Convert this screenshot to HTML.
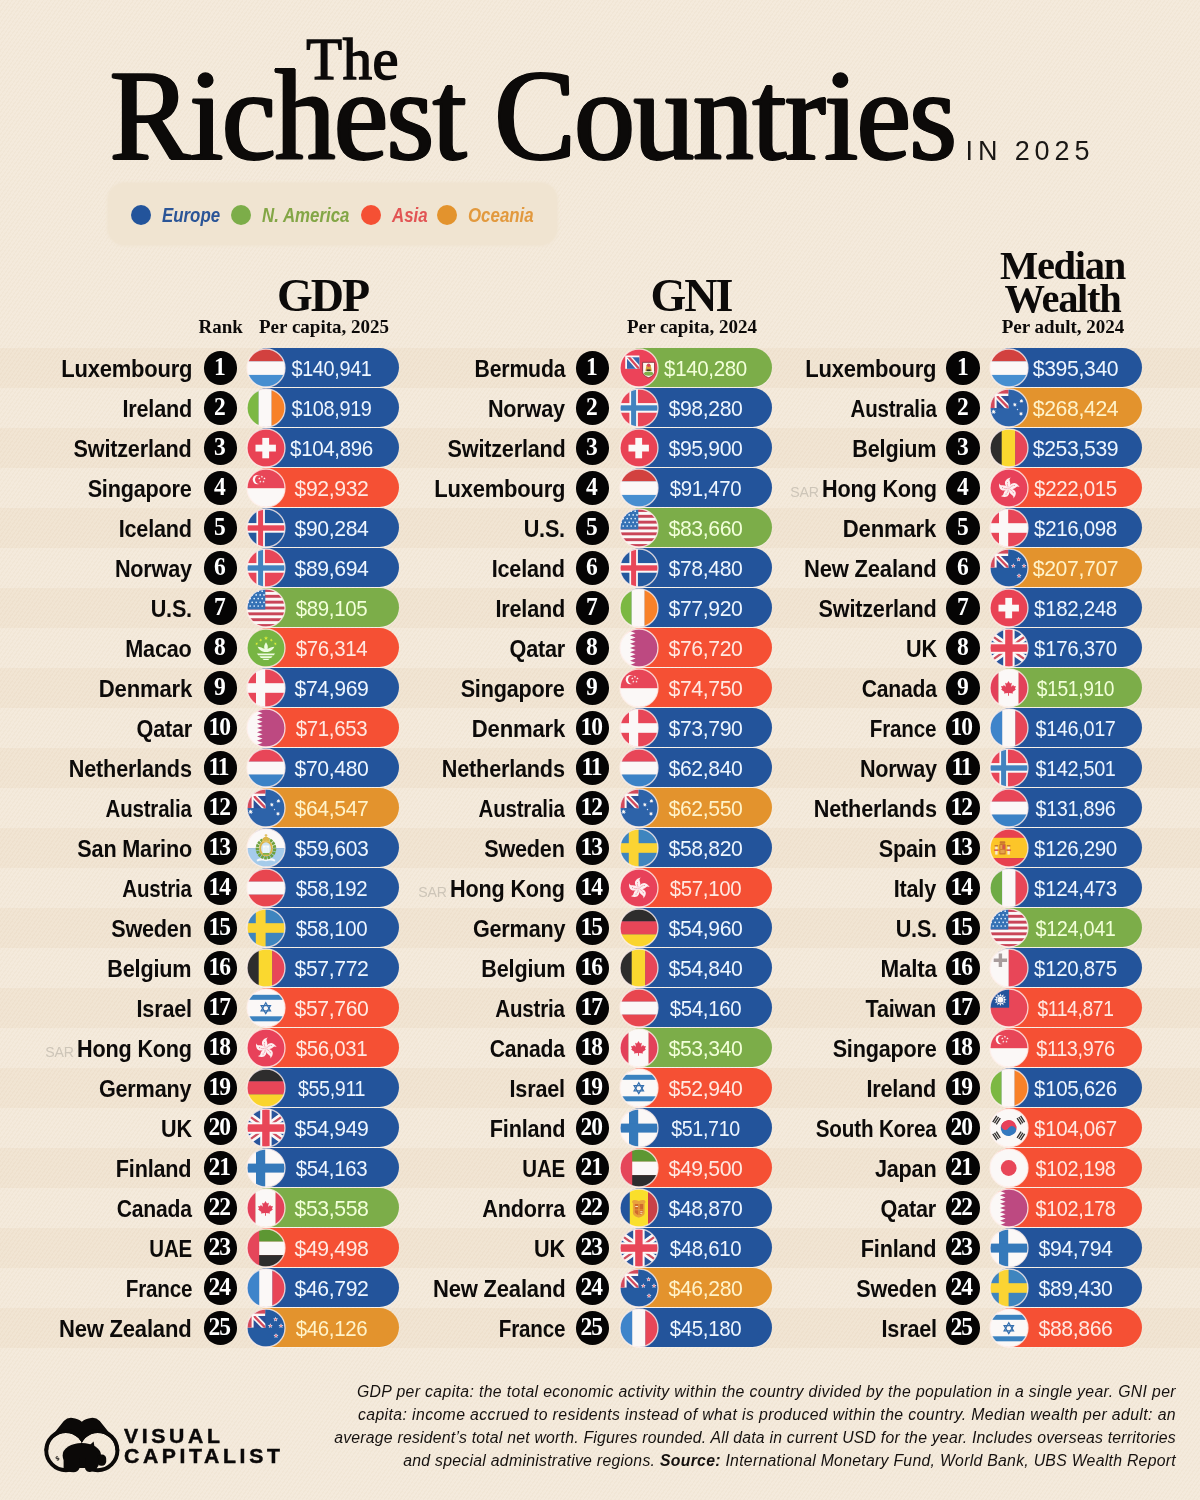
<!DOCTYPE html>
<html lang="en">
<head>
<meta charset="utf-8">
<title>The Richest Countries in 2025</title>
<style>
*{margin:0;padding:0;box-sizing:border-box}
html,body{width:1200px;height:1500px;background:#f4eadb;overflow:hidden}
body{font-family:"Liberation Sans","DejaVu Sans",sans-serif;color:#0c0a09}
#page{position:relative;width:1200px;height:1500px;overflow:hidden;background:#f4eadb}
.bands{position:absolute;left:0;top:0;width:1200px;height:1500px}
.bands::after{content:'';position:absolute;left:0;top:0;width:1200px;height:1500px;background:repeating-linear-gradient(125deg,rgba(150,110,60,.03) 0 1.2px,rgba(255,255,255,.025) 1.2px 3.2px);pointer-events:none}
.bands i{position:absolute;left:0;width:1200px;height:40px;background:#f1e4d2;display:block}
.abs{position:absolute;white-space:nowrap;line-height:1}
.serif{font-family:"Liberation Serif","DejaVu Serif",serif;font-weight:bold}

/* title */
#t-the{left:306.3px;top:30.6px;font-size:58.5px;letter-spacing:.6px;transform-origin:0 0;font-weight:normal;-webkit-text-stroke:1.5px #0c0a09}
#t-main{left:110px;top:50.5px;font-size:129.5px;letter-spacing:-1px;transform-origin:0 0;transform:scaleX(.932);font-weight:normal;-webkit-text-stroke:2px #0c0a09;text-shadow:1.8px 0 0 #0c0a09,-1.8px 0 0 #0c0a09,.9px 0 0 #0c0a09,-.9px 0 0 #0c0a09}
#t-year{left:965.5px;top:137.6px;font-size:27px;letter-spacing:4.9px;color:#1a1715}

/* legend */
#legend{position:absolute;left:108px;top:183px;width:449px;height:62px;border-radius:17px;background:#f0e4d1;box-shadow:0 0 3px 1px #f0e4d1}
#legend .dot{position:absolute;top:22px;width:20px;height:20px;border-radius:50%}
#legend .lb{position:absolute;top:23px;font-size:19.5px;font-style:italic;font-weight:bold;line-height:1;white-space:nowrap;transform-origin:0 50%;transform:scaleX(.865)}

/* column headers */
.h1{font-size:46px;letter-spacing:-2px;text-align:center}
.h2{font-size:19px;text-align:center}

/* rows */
.col{position:absolute;left:0;top:0;width:0;height:0}
.row{position:absolute;left:0;width:1200px;height:40px}
.nm{position:absolute;top:0;height:40px;line-height:40px;white-space:nowrap;text-align:right;font-size:23px;font-weight:bold;letter-spacing:-.2px;transform-origin:100% 50%;transform:scaleX(.94);padding-top:1px;right:calc(1200px - var(--nx))}
.nm b{font-weight:bold}
.sar{font-size:15px;font-weight:normal;color:#cdc5b8;letter-spacing:-.2px;margin-right:3.5px;position:relative;top:0}
.rk{position:absolute;top:3px;left:calc(var(--rx) - 16.8px);width:33.6px;height:33.6px;border-radius:50%;background:#050404;color:#fff;text-align:center;font-family:"Liberation Serif","DejaVu Serif",serif;font-weight:bold;font-size:25px;line-height:32px}
.rk span{display:inline-block;transform-origin:50% 50%}
.rk .d1{transform:translateX(-.5px) scaleX(.94)}
.rk .d2{transform:translateX(-2.1px) scaleX(.94);letter-spacing:-1.2px;margin-right:-1.2px}
.pill{position:absolute;top:.1px;height:39.2px;left:calc(var(--fx) - 18px);width:151px;border-radius:19.6px;box-shadow:0 1px 0 rgba(255,255,255,.42)}
.pill.e{background:#23549b}
.pill.n{background:#7cad49}
.pill.a{background:#f55034}
.pill.o{background:#e3932d}
.v{position:absolute;left:18px;width:133px;top:0;height:39.2px;line-height:41px;text-align:center;color:#fff;font-size:22px;letter-spacing:-.4px;transform:scaleX(.965);transform-origin:50% 50%;white-space:nowrap}
.v i{font-style:normal;margin:0 -1.4px}
.pill.n .v{color:#f2ffd9}
.pill.o .v{color:#fff3c9}
.pill.a .v{color:#ffe9e2}
.pill.e .v{color:#eef6ff}
.fl{position:absolute;top:-.3px;left:calc(var(--fx) - 20px);width:40px;height:40px;overflow:visible}
.c1 .v{margin-left:-1px}
.c1{--nx:191.8px;--rx:220.3px;--fx:266.3px}
.c2{--nx:565.1px;--rx:592.6px;--fx:638.9px}
.c3{--nx:936.5px;--rx:963px;--fx:1009.4px}

/* footer */
.fn{position:absolute;right:24px;white-space:nowrap;font-style:italic;font-size:15.8px;line-height:1;letter-spacing:.25px;color:#15110f;transform-origin:100% 50%}
.fn b{font-weight:bold}
#vc1,#vc2{position:absolute;left:124.2px;font-weight:bold;font-size:19.8px;line-height:1;white-space:nowrap;color:#0a0808;transform-origin:0 50%;transform:scaleX(1.07);-webkit-text-stroke:.45px #0a0808}

</style>
</head>
<body>
<div id="page">
<svg width="0" height="0" style="position:absolute" aria-hidden="true"><defs>
<clipPath id="cc"><circle cx="20" cy="20" r="19"/></clipPath>
<clipPath id="cbm"><rect x="8" y="9.3" width="12.4" height="11.5"/></clipPath>
<clipPath id="cq216"><rect x="0.00" y="0.00" width="19.60" height="20.20"/></clipPath>
<clipPath id="cq213"><rect x="0.00" y="0.00" width="19.40" height="19.80"/></clipPath>
</defs></svg>
<div class="bands"><i style="top:348px"></i><i style="top:428px"></i><i style="top:508px"></i><i style="top:588px"></i><i style="top:668px"></i><i style="top:748px"></i><i style="top:828px"></i><i style="top:908px"></i><i style="top:988px"></i><i style="top:1068px"></i><i style="top:1148px"></i><i style="top:1228px"></i><i style="top:1308px"></i></div>
<header>
<div id="t-the" class="abs serif">The</div>
<h1 id="t-main" class="abs serif">Richest Countries</h1>
<div id="t-year" class="abs">IN 2025</div>
<div id="legend">
<span class="dot" style="left:23px;background:#23549b"></span><span class="lb" style="left:54px;color:#2b5597">Europe</span>
<span class="dot" style="left:123px;background:#7cad49"></span><span class="lb" style="left:154px;color:#83a646">N. America</span>
<span class="dot" style="left:253px;background:#f55034"></span><span class="lb" style="left:284px;color:#e25454">Asia</span>
<span class="dot" style="left:329px;background:#e3932d"></span><span class="lb" style="left:360px;color:#e2993e">Oceania</span>
</div>
<div class="abs serif h2" id="h-rank" style="left:198.5px;top:317px">Rank</div>
<div class="abs serif h1" id="h-gdp" style="left:222.5px;width:200px;top:273px">GDP</div>
<div class="abs serif h2" id="h-gdp2" style="left:224px;width:200px;top:317px">Per capita, 2025</div>
<div class="abs serif h1" id="h-gni" style="left:591px;width:200px;top:273px">GNI</div>
<div class="abs serif h2" id="h-gni2" style="left:592px;width:200px;top:317px">Per capita, 2024</div>
<div class="abs serif h1" id="h-mw" style="left:962.5px;width:200px;top:249px;font-size:40.5px;line-height:33.2px;letter-spacing:-1.3px">Median<br>Wealth</div>
<div class="abs serif h2" id="h-mw2" style="left:963px;width:200px;top:317px">Per adult, 2024</div>
</header>
<section class="col c1">
<div class="row" style="top:348.0px"><div class="nm" style="transform:scaleX(0.955)"><b>Luxembourg</b></div><div class="rk"><span class="d1">1</span></div><div class="pill e"><span class="v" style="transform:scaleX(0.904)">$140,941</span></div><svg class="fl" viewBox="0 0 40 40" role="img" aria-label="Luxembourg flag"><g clip-path="url(#cc)"><rect x="0.00" y="0.00" width="40.00" height="13.50" fill="#d2413f"/><rect x="0.00" y="13.30" width="40.00" height="13.80" fill="#fbf8f7"/><rect x="0.00" y="26.90" width="40.00" height="13.30" fill="#468ed0"/></g><circle cx="20" cy="20" r="19" fill="none" stroke="rgba(255,240,236,.8)" stroke-width="1.3"/></svg></div>
<div class="row" style="top:388.0px"><div class="nm"><b>Ireland</b></div><div class="rk"><span class="d1">2</span></div><div class="pill e"><span class="v" style="transform:scaleX(0.904)">$108,919</span></div><svg class="fl" viewBox="0 0 40 40" role="img" aria-label="Ireland flag"><g clip-path="url(#cc)"><rect x="0.00" y="0.00" width="12.80" height="40.00" fill="#7cb843"/><rect x="12.60" y="0.00" width="13.20" height="40.00" fill="#fbf8f7"/><rect x="25.60" y="0.00" width="14.60" height="40.00" fill="#f88128"/></g><circle cx="20" cy="20" r="19" fill="none" stroke="rgba(255,240,236,.8)" stroke-width="1.3"/></svg></div>
<div class="row" style="top:428.0px"><div class="nm"><b>Switzerland</b></div><div class="rk"><span class="d1">3</span></div><div class="pill e"><span class="v" style="transform:scaleX(0.935)">$104,896</span></div><svg class="fl" viewBox="0 0 40 40" role="img" aria-label="Switzerland flag"><g clip-path="url(#cc)"><rect x="0.00" y="0.00" width="40.00" height="40.00" fill="#e94254"/><rect x="9.50" y="16.70" width="20.40" height="6.80" fill="#fbf8f7"/><rect x="16.30" y="9.90" width="6.80" height="20.40" fill="#fbf8f7"/></g><circle cx="20" cy="20" r="19" fill="none" stroke="rgba(255,240,236,.8)" stroke-width="1.3"/></svg></div>
<div class="row" style="top:468.0px"><div class="nm"><b>Singapore</b></div><div class="rk"><span class="d1">4</span></div><div class="pill a"><span class="v">$92,932</span></div><svg class="fl" viewBox="0 0 40 40" role="img" aria-label="Singapore flag"><g clip-path="url(#cc)"><rect x="0.00" y="0.00" width="40.00" height="20.40" fill="#e84658"/><rect x="0.00" y="20.20" width="40.00" height="20.00" fill="#fbf8f7"/><circle cx="11.4" cy="11.6" r="4.7" fill="#fbf8f7"/><circle cx="13.3" cy="11.6" r="4.3" fill="#e84658"/><polygon points="15.90,7.45 16.22,8.26 17.09,8.31 16.42,8.87 16.63,9.71 15.90,9.25 15.17,9.71 15.38,8.87 14.71,8.31 15.58,8.26" fill="#fbf8f7"/><polygon points="18.47,9.32 18.79,10.12 19.66,10.18 18.99,10.74 19.20,11.58 18.47,11.12 17.73,11.58 17.94,10.74 17.28,10.18 18.14,10.12" fill="#fbf8f7"/><polygon points="17.49,12.33 17.81,13.14 18.68,13.20 18.01,13.75 18.22,14.60 17.49,14.13 16.75,14.60 16.96,13.75 16.30,13.20 17.16,13.14" fill="#fbf8f7"/><polygon points="14.31,12.33 14.64,13.14 15.50,13.20 14.84,13.75 15.05,14.60 14.31,14.13 13.58,14.60 13.79,13.75 13.12,13.20 13.99,13.14" fill="#fbf8f7"/><polygon points="13.33,9.32 13.66,10.12 14.52,10.18 13.86,10.74 14.07,11.58 13.33,11.12 12.60,11.58 12.81,10.74 12.14,10.18 13.01,10.12" fill="#fbf8f7"/></g><circle cx="20" cy="20" r="19" fill="none" stroke="rgba(255,240,236,.8)" stroke-width="1.3"/></svg></div>
<div class="row" style="top:508.0px"><div class="nm"><b>Iceland</b></div><div class="rk"><span class="d1">5</span></div><div class="pill e"><span class="v">$90,284</span></div><svg class="fl" viewBox="0 0 40 40" role="img" aria-label="Iceland flag"><g clip-path="url(#cc)"><rect x="0.00" y="0.00" width="40.00" height="40.00" fill="#25599e"/><rect x="10.40" y="0.00" width="8.50" height="40.00" fill="#fbf8f7"/><rect x="0.00" y="15.10" width="40.00" height="9.60" fill="#fbf8f7"/><rect x="12.10" y="0.00" width="5.00" height="40.00" fill="#e84658"/><rect x="0.00" y="17.30" width="40.00" height="5.40" fill="#e84658"/></g><circle cx="20" cy="20" r="19" fill="none" stroke="rgba(255,240,236,.8)" stroke-width="1.3"/></svg></div>
<div class="row" style="top:548.0px"><div class="nm"><b>Norway</b></div><div class="rk"><span class="d1">6</span></div><div class="pill e"><span class="v">$89,694</span></div><svg class="fl" viewBox="0 0 40 40" role="img" aria-label="Norway flag"><g clip-path="url(#cc)"><rect x="0.00" y="0.00" width="40.00" height="40.00" fill="#e84658"/><rect x="10.40" y="0.00" width="8.50" height="40.00" fill="#fbf8f7"/><rect x="0.00" y="15.10" width="40.00" height="9.60" fill="#fbf8f7"/><rect x="12.10" y="0.00" width="5.00" height="40.00" fill="#4283bf"/><rect x="0.00" y="17.30" width="40.00" height="5.40" fill="#4283bf"/></g><circle cx="20" cy="20" r="19" fill="none" stroke="rgba(255,240,236,.8)" stroke-width="1.3"/></svg></div>
<div class="row" style="top:588.0px"><div class="nm"><b>U.S.</b></div><div class="rk"><span class="d1">7</span></div><div class="pill n"><span class="v" style="transform:scaleX(0.930)">$89,105</span></div><svg class="fl" viewBox="0 0 40 40" role="img" aria-label="U.S. flag"><g clip-path="url(#cc)"><rect x="0.00" y="0.00" width="40.00" height="40.00" fill="#fbf8f7"/><rect x="0.00" y="1.00" width="40.00" height="2.92" fill="#c94558"/><rect x="0.00" y="6.85" width="40.00" height="2.92" fill="#c94558"/><rect x="0.00" y="12.69" width="40.00" height="2.92" fill="#c94558"/><rect x="0.00" y="18.54" width="40.00" height="2.92" fill="#c94558"/><rect x="0.00" y="24.38" width="40.00" height="2.92" fill="#c94558"/><rect x="0.00" y="30.23" width="40.00" height="2.92" fill="#c94558"/><rect x="0.00" y="36.08" width="40.00" height="2.92" fill="#c94558"/><rect x="0.00" y="0.00" width="19.30" height="21.46" fill="#3571b5"/><circle cx="4.2" cy="3.2" r=".85" fill="#dff0ff"/><circle cx="8.2" cy="3.2" r=".85" fill="#dff0ff"/><circle cx="12.2" cy="3.2" r=".85" fill="#dff0ff"/><circle cx="16.2" cy="3.2" r=".85" fill="#dff0ff"/><circle cx="2.2" cy="6.9" r=".85" fill="#dff0ff"/><circle cx="6.2" cy="6.9" r=".85" fill="#dff0ff"/><circle cx="10.2" cy="6.9" r=".85" fill="#dff0ff"/><circle cx="14.2" cy="6.9" r=".85" fill="#dff0ff"/><circle cx="18.0" cy="6.9" r=".85" fill="#dff0ff"/><circle cx="4.2" cy="10.6" r=".85" fill="#dff0ff"/><circle cx="8.2" cy="10.6" r=".85" fill="#dff0ff"/><circle cx="12.2" cy="10.6" r=".85" fill="#dff0ff"/><circle cx="16.2" cy="10.6" r=".85" fill="#dff0ff"/><circle cx="2.2" cy="14.3" r=".85" fill="#dff0ff"/><circle cx="6.2" cy="14.3" r=".85" fill="#dff0ff"/><circle cx="10.2" cy="14.3" r=".85" fill="#dff0ff"/><circle cx="14.2" cy="14.3" r=".85" fill="#dff0ff"/><circle cx="18.0" cy="14.3" r=".85" fill="#dff0ff"/><circle cx="4.2" cy="18.0" r=".85" fill="#dff0ff"/><circle cx="8.2" cy="18.0" r=".85" fill="#dff0ff"/><circle cx="12.2" cy="18.0" r=".85" fill="#dff0ff"/><circle cx="16.2" cy="18.0" r=".85" fill="#dff0ff"/></g><circle cx="20" cy="20" r="19" fill="none" stroke="rgba(255,240,236,.8)" stroke-width="1.3"/></svg></div>
<div class="row" style="top:628.0px"><div class="nm"><b>Macao</b></div><div class="rk"><span class="d1">8</span></div><div class="pill a"><span class="v" style="transform:scaleX(0.930)">$76,314</span></div><svg class="fl" viewBox="0 0 40 40" role="img" aria-label="Macao flag"><g clip-path="url(#cc)"><rect x="0.00" y="0.00" width="40.00" height="40.00" fill="#77b543"/><polygon points="20.00,8.00 20.53,9.47 22.09,9.52 20.86,10.48 21.29,11.98 20.00,11.10 18.71,11.98 19.14,10.48 17.91,9.52 19.47,9.47" fill="#d9ec3a"/><polygon points="14.02,10.50 14.79,11.43 15.94,11.05 15.30,12.08 16.01,13.05 14.84,12.76 14.13,13.73 14.05,12.53 12.90,12.16 14.02,11.71" fill="#d9ec3a"/><polygon points="25.98,10.50 25.98,11.71 27.10,12.16 25.95,12.53 25.87,13.73 25.16,12.76 23.99,13.05 24.70,12.08 24.06,11.05 25.21,11.43" fill="#d9ec3a"/><polygon points="9.72,14.41 10.71,15.10 11.72,14.44 11.37,15.60 12.31,16.35 11.10,16.37 10.67,17.50 10.28,16.36 9.07,16.30 10.04,15.57" fill="#d9ec3a"/><polygon points="30.28,14.41 29.96,15.57 30.93,16.30 29.72,16.36 29.33,17.50 28.90,16.37 27.69,16.35 28.63,15.60 28.28,14.44 29.29,15.10" fill="#d9ec3a"/><path d="M20 14.2c1.6 2.2 2.3 4.4 1.5 6.6 2-.6 4.2-1.9 6.9-2-1 2.6-3.3 4.6-6.600 5.200h-3.600c-3.300-.600-5.600-2.600-6.600-5.200 2.700.100 4.900 1.400 6.900 2-.800-2.200-.100-4.400 1.500-6.600z" fill="#eefbe0"/><path d="M11 25.600h18l-1.200 1.700h-15.600zM13.400 28.300h13.200l-1.500 1.600h-10.200zM16.200 30.800h7.600l-1.600 1.300h-4.400z" fill="#eefbe0"/></g><circle cx="20" cy="20" r="19" fill="none" stroke="rgba(255,240,236,.8)" stroke-width="1.3"/></svg></div>
<div class="row" style="top:668.0px"><div class="nm" style="transform:scaleX(0.961)"><b>Denmark</b></div><div class="rk"><span class="d1">9</span></div><div class="pill e"><span class="v">$74,969</span></div><svg class="fl" viewBox="0 0 40 40" role="img" aria-label="Denmark flag"><g clip-path="url(#cc)"><rect x="0.00" y="0.00" width="40.00" height="40.00" fill="#e84658"/><rect x="10.00" y="0.00" width="9.20" height="40.00" fill="#fbf8f7"/><rect x="0.00" y="15.20" width="40.00" height="9.60" fill="#fbf8f7"/></g><circle cx="20" cy="20" r="19" fill="none" stroke="rgba(255,240,236,.8)" stroke-width="1.3"/></svg></div>
<div class="row" style="top:708.0px"><div class="nm"><b>Qatar</b></div><div class="rk"><span class="d2">10</span></div><div class="pill a"><span class="v" style="transform:scaleX(0.930)">$71,653</span></div><svg class="fl" viewBox="0 0 40 40" role="img" aria-label="Qatar flag"><g clip-path="url(#cc)"><rect x="0.00" y="0.00" width="40.00" height="40.00" fill="#fbf8f7"/><polygon points="40,0 16.6,0 11.00,3.11 16.60,5.22 11.00,7.33 16.60,9.44 11.00,11.56 16.60,13.67 11.00,15.78 16.60,17.89 11.00,20.00 16.60,22.11 11.00,24.22 16.60,26.33 11.00,28.44 16.60,30.56 11.00,32.67 16.60,34.78 11.00,36.89 16.60,39.00 16.6,40 40,40" fill="#bd4981"/></g><circle cx="20" cy="20" r="19" fill="none" stroke="rgba(255,240,236,.8)" stroke-width="1.3"/></svg></div>
<div class="row" style="top:748.0px"><div class="nm"><b>Netherlands</b></div><div class="rk"><span class="d2">11</span></div><div class="pill e"><span class="v">$70,480</span></div><svg class="fl" viewBox="0 0 40 40" role="img" aria-label="Netherlands flag"><g clip-path="url(#cc)"><rect x="0.00" y="0.00" width="40.00" height="13.80" fill="#e84658"/><rect x="0.00" y="13.60" width="40.00" height="13.20" fill="#fbf8f7"/><rect x="0.00" y="26.60" width="40.00" height="13.60" fill="#3b82c6"/></g><circle cx="20" cy="20" r="19" fill="none" stroke="rgba(255,240,236,.8)" stroke-width="1.3"/></svg></div>
<div class="row" style="top:788.0px"><div class="nm" style="transform:scaleX(0.891)"><b>Australia</b></div><div class="rk"><span class="d2">12</span></div><div class="pill o"><span class="v">$64,547</span></div><svg class="fl" viewBox="0 0 40 40" role="img" aria-label="Australia flag"><g clip-path="url(#cc)"><rect x="0.00" y="0.00" width="40.00" height="40.00" fill="#2d63a9"/><rect x="0.00" y="0.00" width="19.60" height="20.20" fill="#2b5099"/><g><g clip-path="url(#cq216)"><path d="M3.00 3.00L21.60 22.20" stroke="#fbf8f7" stroke-width="5.6"/><path d="M3.00 3.00L21.60 22.20" stroke="#d34a5c" stroke-width="2.4"/><rect x="0.00" y="0.00" width="7.60" height="20.20" fill="#fbf8f7"/><rect x="0.00" y="0.00" width="19.60" height="8.00" fill="#fbf8f7"/><rect x="0.00" y="0.00" width="5.60" height="20.20" fill="#d34a5c"/><rect x="0.00" y="0.00" width="19.60" height="5.60" fill="#d34a5c"/></g></g><polygon points="4.60,21.20 5.12,22.72 6.63,22.18 5.77,23.53 7.13,24.38 5.54,24.55 5.73,26.14 4.60,25.00 3.47,26.14 3.66,24.55 2.07,24.38 3.43,23.53 2.57,22.18 4.08,22.72" fill="#fbf8f7"/><polygon points="25.80,14.50 26.26,15.75 27.52,15.33 26.83,16.47 27.94,17.19 26.63,17.36 26.75,18.68 25.80,17.76 24.85,18.68 24.97,17.36 23.66,17.19 24.77,16.47 24.08,15.33 25.34,15.75" fill="#fbf8f7"/><polygon points="32.40,10.80 32.86,12.05 34.12,11.63 33.43,12.77 34.54,13.49 33.23,13.66 33.35,14.98 32.40,14.06 31.45,14.98 31.57,13.66 30.26,13.49 31.37,12.77 30.68,11.63 31.94,12.05" fill="#fbf8f7"/><polygon points="32.00,23.60 32.46,24.85 33.72,24.43 33.03,25.57 34.14,26.29 32.83,26.46 32.95,27.78 32.00,26.86 31.05,27.78 31.17,26.46 29.86,26.29 30.97,25.57 30.28,24.43 31.54,24.85" fill="#fbf8f7"/><polygon points="28.50,20.60 28.75,21.15 29.36,21.22 28.91,21.63 29.03,22.23 28.50,21.93 27.97,22.23 28.09,21.63 27.64,21.22 28.25,21.15" fill="#fbf8f7"/></g><circle cx="20" cy="20" r="19" fill="none" stroke="rgba(255,240,236,.8)" stroke-width="1.3"/></svg></div>
<div class="row" style="top:828.0px"><div class="nm"><b>San Marino</b></div><div class="rk"><span class="d2">13</span></div><div class="pill e"><span class="v">$59,603</span></div><svg class="fl" viewBox="0 0 40 40" role="img" aria-label="San Marino flag"><g clip-path="url(#cc)"><rect x="0.00" y="0.00" width="40.00" height="20.50" fill="#fbf8f7"/><rect x="0.00" y="20.30" width="40.00" height="19.90" fill="#a5cbea"/><path d="M10.500 32c2.600-2.200 5.800-2.600 9.500-1.200 3.700-1.400 6.900-1 9.500 1.200l-1 1.600c-2.600-1.500-5.300-1.600-8.500-.400-3.200-1.200-5.900-1.100-8.500.400z" fill="#f4f7fa"/><ellipse cx="20" cy="20.600" rx="8.700" ry="9.300" fill="none" stroke="#6fa23c" stroke-width="3.200" stroke-dasharray="2.600 .700"/><ellipse cx="20" cy="20.400" rx="5.900" ry="7" fill="#cfe3f2" stroke="#dcb548" stroke-width="1.900"/><path d="M16.800 17.500h6.400v8.500h-6.400z" fill="#fafcfd"/><path d="M17.500 19.500h1.200v6.500h-1.200zM19.400 18.500h1.200v7.500h-1.200zM21.300 19.500h1.200v6.500h-1.200z" fill="#dcecf6"/><path d="M16.800 25h6.400v1.800h-6.400z" fill="#7fb04a"/><path d="M16.400 12.800c0-2.600 1.600-4 3.600-4s3.600 1.400 3.600 4z" fill="#dcb548"/><rect x="19.5" y="6" width="1" height="3.200" fill="#dcb548"/><rect x="18.600" y="6.800" width="2.800" height=".9" fill="#dcb548"/><rect x="15.800" y="12.400" width="8.400" height="1.500" rx=".5" fill="#e3c463"/></g><circle cx="20" cy="20" r="19" fill="none" stroke="rgba(255,240,236,.8)" stroke-width="1.3"/></svg></div>
<div class="row" style="top:868.0px"><div class="nm" style="transform:scaleX(0.893)"><b>Austria</b></div><div class="rk"><span class="d2">14</span></div><div class="pill e"><span class="v" style="transform:scaleX(0.930)">$58,192</span></div><svg class="fl" viewBox="0 0 40 40" role="img" aria-label="Austria flag"><g clip-path="url(#cc)"><rect x="0.00" y="0.00" width="40.00" height="13.80" fill="#e8464f"/><rect x="0.00" y="13.60" width="40.00" height="13.20" fill="#fbf8f7"/><rect x="0.00" y="26.60" width="40.00" height="13.60" fill="#e8464f"/></g><circle cx="20" cy="20" r="19" fill="none" stroke="rgba(255,240,236,.8)" stroke-width="1.3"/></svg></div>
<div class="row" style="top:908.0px"><div class="nm"><b>Sweden</b></div><div class="rk"><span class="d2">15</span></div><div class="pill e"><span class="v" style="transform:scaleX(0.930)">$58,100</span></div><svg class="fl" viewBox="0 0 40 40" role="img" aria-label="Sweden flag"><g clip-path="url(#cc)"><rect x="0.00" y="0.00" width="40.00" height="40.00" fill="#3e85bf"/><rect x="9.80" y="0.00" width="9.80" height="40.00" fill="#fbd433"/><rect x="0.00" y="15.20" width="40.00" height="9.60" fill="#fbd433"/></g><circle cx="20" cy="20" r="19" fill="none" stroke="rgba(255,240,236,.8)" stroke-width="1.3"/></svg></div>
<div class="row" style="top:948.0px"><div class="nm"><b>Belgium</b></div><div class="rk"><span class="d2">16</span></div><div class="pill e"><span class="v">$57,772</span></div><svg class="fl" viewBox="0 0 40 40" role="img" aria-label="Belgium flag"><g clip-path="url(#cc)"><rect x="0.00" y="0.00" width="12.90" height="40.00" fill="#2e2d2d"/><rect x="12.70" y="0.00" width="13.70" height="40.00" fill="#fad82f"/><rect x="26.20" y="0.00" width="14.00" height="40.00" fill="#e84658"/></g><circle cx="20" cy="20" r="19" fill="none" stroke="rgba(255,240,236,.8)" stroke-width="1.3"/></svg></div>
<div class="row" style="top:988.0px"><div class="nm"><b>Israel</b></div><div class="rk"><span class="d2">17</span></div><div class="pill a"><span class="v">$57,760</span></div><svg class="fl" viewBox="0 0 40 40" role="img" aria-label="Israel flag"><g clip-path="url(#cc)"><rect x="0.00" y="0.00" width="40.00" height="40.00" fill="#fbf8f7"/><rect x="0.00" y="6.80" width="40.00" height="5.00" fill="#3b82bf"/><rect x="0.00" y="28.30" width="40.00" height="5.00" fill="#3b82bf"/><polygon points="19.80,14.80 24.48,22.90 15.12,22.90" fill="none" stroke="#356fae" stroke-width="1.250" stroke-linejoin="miter"/><polygon points="19.80,25.60 15.12,17.50 24.48,17.50" fill="none" stroke="#356fae" stroke-width="1.250" stroke-linejoin="miter"/></g><circle cx="20" cy="20" r="19" fill="none" stroke="rgba(255,240,236,.8)" stroke-width="1.3"/></svg></div>
<div class="row" style="top:1028.0px"><div class="nm"><span class="sar">SAR</span><b>Hong Kong</b></div><div class="rk"><span class="d2">18</span></div><div class="pill a"><span class="v" style="transform:scaleX(0.930)">$56,031</span></div><svg class="fl" viewBox="0 0 40 40" role="img" aria-label="Hong Kong flag"><g clip-path="url(#cc)"><rect x="0.00" y="0.00" width="40.00" height="40.00" fill="#e8415a"/><g transform="translate(19.700 20.500) rotate(-6)"><path d="M0 0C-2.300 -1.400 -3.900 -4.400 -2.800 -7.300C-1.700 -9.500 1 -10.300 3.200 -10.600C1.700 -9.500 1.400 -8.500 1.900 -6.900C2.600 -4.500 1.900 -1.800 0 0z" fill="#fdeef0"/><circle cx="-.500" cy="-6.200" r=".480" fill="#d94a60"/><path d="M-.200 -1.200C-.900 -2.600 -1.100 -3.800 -.800 -5" fill="none" stroke="#e8415a" stroke-width=".350"/></g><g transform="translate(19.700 20.500) rotate(66)"><path d="M0 0C-2.300 -1.400 -3.900 -4.400 -2.800 -7.300C-1.700 -9.500 1 -10.300 3.200 -10.600C1.700 -9.500 1.400 -8.500 1.900 -6.900C2.600 -4.500 1.900 -1.800 0 0z" fill="#fdeef0"/><circle cx="-.500" cy="-6.200" r=".480" fill="#d94a60"/><path d="M-.200 -1.200C-.900 -2.600 -1.100 -3.800 -.800 -5" fill="none" stroke="#e8415a" stroke-width=".350"/></g><g transform="translate(19.700 20.500) rotate(138)"><path d="M0 0C-2.300 -1.400 -3.900 -4.400 -2.800 -7.300C-1.700 -9.500 1 -10.300 3.200 -10.600C1.700 -9.500 1.400 -8.500 1.900 -6.900C2.600 -4.500 1.900 -1.800 0 0z" fill="#fdeef0"/><circle cx="-.500" cy="-6.200" r=".480" fill="#d94a60"/><path d="M-.200 -1.200C-.900 -2.600 -1.100 -3.800 -.800 -5" fill="none" stroke="#e8415a" stroke-width=".350"/></g><g transform="translate(19.700 20.500) rotate(210)"><path d="M0 0C-2.300 -1.400 -3.900 -4.400 -2.800 -7.300C-1.700 -9.500 1 -10.300 3.200 -10.600C1.700 -9.500 1.400 -8.500 1.900 -6.900C2.600 -4.500 1.900 -1.800 0 0z" fill="#fdeef0"/><circle cx="-.500" cy="-6.200" r=".480" fill="#d94a60"/><path d="M-.200 -1.200C-.900 -2.600 -1.100 -3.800 -.800 -5" fill="none" stroke="#e8415a" stroke-width=".350"/></g><g transform="translate(19.700 20.500) rotate(282)"><path d="M0 0C-2.300 -1.400 -3.900 -4.400 -2.800 -7.300C-1.700 -9.500 1 -10.300 3.200 -10.600C1.700 -9.500 1.400 -8.500 1.900 -6.900C2.600 -4.500 1.900 -1.800 0 0z" fill="#fdeef0"/><circle cx="-.500" cy="-6.200" r=".480" fill="#d94a60"/><path d="M-.200 -1.200C-.900 -2.600 -1.100 -3.800 -.800 -5" fill="none" stroke="#e8415a" stroke-width=".350"/></g></g><circle cx="20" cy="20" r="19" fill="none" stroke="rgba(255,240,236,.8)" stroke-width="1.3"/></svg></div>
<div class="row" style="top:1068.0px"><div class="nm"><b>Germany</b></div><div class="rk"><span class="d2">19</span></div><div class="pill e"><span class="v" style="transform:scaleX(0.895)">$55,911</span></div><svg class="fl" viewBox="0 0 40 40" role="img" aria-label="Germany flag"><g clip-path="url(#cc)"><rect x="0.00" y="0.00" width="40.00" height="13.50" fill="#2e2d2d"/><rect x="0.00" y="13.30" width="40.00" height="13.30" fill="#e84658"/><rect x="0.00" y="26.40" width="40.00" height="13.80" fill="#fad42c"/></g><circle cx="20" cy="20" r="19" fill="none" stroke="rgba(255,240,236,.8)" stroke-width="1.3"/></svg></div>
<div class="row" style="top:1108.0px"><div class="nm"><b>UK</b></div><div class="rk"><span class="d2">20</span></div><div class="pill e"><span class="v">$54,949</span></div><svg class="fl" viewBox="0 0 40 40" role="img" aria-label="UK flag"><g clip-path="url(#cc)"><rect x="0.00" y="0.00" width="40.00" height="40.00" fill="#29559b"/><path d="M-2 4.200L42 35.800M42 4.200L-2 35.800" stroke="#fbf8f7" stroke-width="7.600"/><path d="M-2 4.200L42 35.800M42 4.200L-2 35.800" stroke="#cf4f5f" stroke-width="2.200"/><rect x="14.20" y="0.00" width="11.40" height="40.00" fill="#fbf8f7"/><rect x="0.00" y="14.30" width="40.00" height="11.50" fill="#fbf8f7"/><rect x="16.20" y="0.00" width="7.40" height="40.00" fill="#e84658"/><rect x="0.00" y="16.30" width="40.00" height="7.50" fill="#e84658"/></g><circle cx="20" cy="20" r="19" fill="none" stroke="rgba(255,240,236,.8)" stroke-width="1.3"/></svg></div>
<div class="row" style="top:1148.0px"><div class="nm"><b>Finland</b></div><div class="rk"><span class="d2">21</span></div><div class="pill e"><span class="v" style="transform:scaleX(0.930)">$54,163</span></div><svg class="fl" viewBox="0 0 40 40" role="img" aria-label="Finland flag"><g clip-path="url(#cc)"><rect x="0.00" y="0.00" width="40.00" height="40.00" fill="#fbf8f7"/><rect x="10.00" y="0.00" width="9.20" height="40.00" fill="#3579ba"/><rect x="0.00" y="15.60" width="40.00" height="9.00" fill="#3579ba"/></g><circle cx="20" cy="20" r="19" fill="none" stroke="rgba(255,240,236,.8)" stroke-width="1.3"/></svg></div>
<div class="row" style="top:1188.0px"><div class="nm" style="transform:scaleX(0.919)"><b>Canada</b></div><div class="rk"><span class="d2">22</span></div><div class="pill n"><span class="v">$53,558</span></div><svg class="fl" viewBox="0 0 40 40" role="img" aria-label="Canada flag"><g clip-path="url(#cc)"><rect x="0.00" y="0.00" width="9.70" height="40.00" fill="#e3415a"/><rect x="9.50" y="0.00" width="20.30" height="40.00" fill="#fbf8f7"/><rect x="29.60" y="0.00" width="10.60" height="40.00" fill="#e3415a"/><path transform="translate(19.500 20.300) scale(.740)" d="M0,-10L2,-6.500L4.500,-7.500L3.500,-2L6.500,-4.500L7.200,-2.800L10,-3.200L8.800,.5L10,1.500L5.500,5L6.200,7L.6,6.200L.6,10L-.6,10L-.6,6.200L-6.200,7L-5.500,5L-10,1.500L-8.800,.5L-10,-3.200L-7.200,-2.800L-6.500,-4.500L-3.500,-2L-4.500,-7.500L-2,-6.500Z" fill="#e3415a"/></g><circle cx="20" cy="20" r="19" fill="none" stroke="rgba(255,240,236,.8)" stroke-width="1.3"/></svg></div>
<div class="row" style="top:1228.0px"><div class="nm" style="transform:scaleX(0.89)"><b>UAE</b></div><div class="rk"><span class="d2">23</span></div><div class="pill a"><span class="v">$49,498</span></div><svg class="fl" viewBox="0 0 40 40" role="img" aria-label="UAE flag"><g clip-path="url(#cc)"><rect x="0.00" y="0.00" width="40.00" height="13.80" fill="#5d9733"/><rect x="0.00" y="13.60" width="40.00" height="13.70" fill="#fbf8f7"/><rect x="0.00" y="27.10" width="40.00" height="13.10" fill="#2e2d2d"/><rect x="0.00" y="0.00" width="13.20" height="40.00" fill="#e5465a"/></g><circle cx="20" cy="20" r="19" fill="none" stroke="rgba(255,240,236,.8)" stroke-width="1.3"/></svg></div>
<div class="row" style="top:1268.0px"><div class="nm" style="transform:scaleX(0.896)"><b>France</b></div><div class="rk"><span class="d2">24</span></div><div class="pill e"><span class="v">$46,792</span></div><svg class="fl" viewBox="0 0 40 40" role="img" aria-label="France flag"><g clip-path="url(#cc)"><rect x="0.00" y="0.00" width="13.40" height="40.00" fill="#3f84ca"/><rect x="13.20" y="0.00" width="13.40" height="40.00" fill="#fbf8f7"/><rect x="26.40" y="0.00" width="13.80" height="40.00" fill="#e84658"/></g><circle cx="20" cy="20" r="19" fill="none" stroke="rgba(255,240,236,.8)" stroke-width="1.3"/></svg></div>
<div class="row" style="top:1308.0px"><div class="nm" style="transform:scaleX(0.957)"><b>New Zealand</b></div><div class="rk"><span class="d2">25</span></div><div class="pill o"><span class="v" style="transform:scaleX(0.930)">$46,126</span></div><svg class="fl" viewBox="0 0 40 40" role="img" aria-label="New Zealand flag"><g clip-path="url(#cc)"><rect x="0.00" y="0.00" width="40.00" height="40.00" fill="#255ba1"/><rect x="0.00" y="0.00" width="19.40" height="19.80" fill="#2b5099"/><g><g clip-path="url(#cq213)"><path d="M3.00 3.00L21.40 21.80" stroke="#fbf8f7" stroke-width="5.6"/><path d="M3.00 3.00L21.40 21.80" stroke="#d34a5c" stroke-width="2.4"/><rect x="0.00" y="0.00" width="7.60" height="19.80" fill="#fbf8f7"/><rect x="0.00" y="0.00" width="19.40" height="8.00" fill="#fbf8f7"/><rect x="0.00" y="0.00" width="5.60" height="19.80" fill="#d34a5c"/><rect x="0.00" y="0.00" width="19.40" height="5.60" fill="#d34a5c"/></g></g><polygon points="29.60,8.80 30.28,10.47 32.07,10.60 30.69,11.76 31.13,13.50 29.60,12.55 28.07,13.50 28.51,11.76 27.13,10.60 28.92,10.47" fill="#fbf8f7"/><polygon points="29.60,9.95 29.96,10.90 30.98,10.95 30.19,11.59 30.45,12.57 29.60,12.02 28.75,12.57 29.01,11.59 28.22,10.95 29.24,10.90" fill="#e0506a"/><polygon points="24.30,15.30 24.98,16.97 26.77,17.10 25.39,18.26 25.83,20.00 24.30,19.05 22.77,20.00 23.21,18.26 21.83,17.10 23.62,16.97" fill="#fbf8f7"/><polygon points="24.30,16.45 24.66,17.40 25.68,17.45 24.89,18.09 25.15,19.07 24.30,18.52 23.45,19.07 23.71,18.09 22.92,17.45 23.94,17.40" fill="#e0506a"/><polygon points="35.00,15.30 35.68,16.97 37.47,17.10 36.09,18.26 36.53,20.00 35.00,19.05 33.47,20.00 33.91,18.26 32.53,17.10 34.32,16.97" fill="#fbf8f7"/><polygon points="35.00,16.45 35.36,17.40 36.38,17.45 35.59,18.09 35.85,19.07 35.00,18.52 34.15,19.07 34.41,18.09 33.62,17.45 34.64,17.40" fill="#e0506a"/><polygon points="30.00,25.20 30.68,26.87 32.47,27.00 31.09,28.16 31.53,29.90 30.00,28.95 28.47,29.90 28.91,28.16 27.53,27.00 29.32,26.87" fill="#fbf8f7"/><polygon points="30.00,26.35 30.36,27.30 31.38,27.35 30.59,27.99 30.85,28.97 30.00,28.42 29.15,28.97 29.41,27.99 28.62,27.35 29.64,27.30" fill="#e0506a"/></g><circle cx="20" cy="20" r="19" fill="none" stroke="rgba(255,240,236,.8)" stroke-width="1.3"/></svg></div>
</section>
<section class="col c2">
<div class="row" style="top:348.0px"><div class="nm" style="transform:scaleX(0.923)"><b>Bermuda</b></div><div class="rk"><span class="d1">1</span></div><div class="pill n"><span class="v" style="transform:scaleX(0.935)">$140,280</span></div><svg class="fl" viewBox="0 0 40 40" role="img" aria-label="Bermuda flag"><g clip-path="url(#cc)"><rect x="0.00" y="0.00" width="40.00" height="40.00" fill="#ec4359"/><rect x="6.20" y="7.50" width="14.20" height="13.30" fill="#fbf8f7"/><rect x="8.00" y="9.30" width="12.40" height="11.50" fill="#3868ad"/><g clip-path="url(#cbm)"><path d="M8 7L21.500 22.500" stroke="#fbf8f7" stroke-width="5"/><path d="M8 7L21.500 22.500" stroke="#d9465a" stroke-width="2.300"/></g><path d="M23.600 14.300h12v9.200c0 3.400-3 5.200-6 6.200-3-1-6-2.800-6-6.200z" fill="#fdf8ee" stroke="#8a2c3a" stroke-width=".9"/><ellipse cx="29.6" cy="25.6" rx="4.6" ry="2.2" fill="#7fae4a"/><path d="M27.4 17.600c.400-1.700 4-1.700 4.400 0l1 5.400h-6.400z" fill="#d8a33a"/><circle cx="29.6" cy="17.2" r="1.700" fill="#d9465a"/><rect x="27.6" y="21.400" width="4" height="1.600" fill="#3a3030"/></g><circle cx="20" cy="20" r="19" fill="none" stroke="rgba(255,240,236,.8)" stroke-width="1.3"/></svg></div>
<div class="row" style="top:388.0px"><div class="nm"><b>Norway</b></div><div class="rk"><span class="d1">2</span></div><div class="pill e"><span class="v">$98,280</span></div><svg class="fl" viewBox="0 0 40 40" role="img" aria-label="Norway flag"><g clip-path="url(#cc)"><rect x="0.00" y="0.00" width="40.00" height="40.00" fill="#e84658"/><rect x="10.40" y="0.00" width="8.50" height="40.00" fill="#fbf8f7"/><rect x="0.00" y="15.10" width="40.00" height="9.60" fill="#fbf8f7"/><rect x="12.10" y="0.00" width="5.00" height="40.00" fill="#4283bf"/><rect x="0.00" y="17.30" width="40.00" height="5.40" fill="#4283bf"/></g><circle cx="20" cy="20" r="19" fill="none" stroke="rgba(255,240,236,.8)" stroke-width="1.3"/></svg></div>
<div class="row" style="top:428.0px"><div class="nm"><b>Switzerland</b></div><div class="rk"><span class="d1">3</span></div><div class="pill e"><span class="v">$95,900</span></div><svg class="fl" viewBox="0 0 40 40" role="img" aria-label="Switzerland flag"><g clip-path="url(#cc)"><rect x="0.00" y="0.00" width="40.00" height="40.00" fill="#e94254"/><rect x="9.50" y="16.70" width="20.40" height="6.80" fill="#fbf8f7"/><rect x="16.30" y="9.90" width="6.80" height="20.40" fill="#fbf8f7"/></g><circle cx="20" cy="20" r="19" fill="none" stroke="rgba(255,240,236,.8)" stroke-width="1.3"/></svg></div>
<div class="row" style="top:468.0px"><div class="nm" style="transform:scaleX(0.955)"><b>Luxembourg</b></div><div class="rk"><span class="d1">4</span></div><div class="pill e"><span class="v" style="transform:scaleX(0.930)">$91,470</span></div><svg class="fl" viewBox="0 0 40 40" role="img" aria-label="Luxembourg flag"><g clip-path="url(#cc)"><rect x="0.00" y="0.00" width="40.00" height="13.50" fill="#d2413f"/><rect x="0.00" y="13.30" width="40.00" height="13.80" fill="#fbf8f7"/><rect x="0.00" y="26.90" width="40.00" height="13.30" fill="#468ed0"/></g><circle cx="20" cy="20" r="19" fill="none" stroke="rgba(255,240,236,.8)" stroke-width="1.3"/></svg></div>
<div class="row" style="top:508.0px"><div class="nm"><b>U.S.</b></div><div class="rk"><span class="d1">5</span></div><div class="pill n"><span class="v">$83,660</span></div><svg class="fl" viewBox="0 0 40 40" role="img" aria-label="U.S. flag"><g clip-path="url(#cc)"><rect x="0.00" y="0.00" width="40.00" height="40.00" fill="#fbf8f7"/><rect x="0.00" y="1.00" width="40.00" height="2.92" fill="#c94558"/><rect x="0.00" y="6.85" width="40.00" height="2.92" fill="#c94558"/><rect x="0.00" y="12.69" width="40.00" height="2.92" fill="#c94558"/><rect x="0.00" y="18.54" width="40.00" height="2.92" fill="#c94558"/><rect x="0.00" y="24.38" width="40.00" height="2.92" fill="#c94558"/><rect x="0.00" y="30.23" width="40.00" height="2.92" fill="#c94558"/><rect x="0.00" y="36.08" width="40.00" height="2.92" fill="#c94558"/><rect x="0.00" y="0.00" width="19.30" height="21.46" fill="#3571b5"/><circle cx="4.2" cy="3.2" r=".85" fill="#dff0ff"/><circle cx="8.2" cy="3.2" r=".85" fill="#dff0ff"/><circle cx="12.2" cy="3.2" r=".85" fill="#dff0ff"/><circle cx="16.2" cy="3.2" r=".85" fill="#dff0ff"/><circle cx="2.2" cy="6.9" r=".85" fill="#dff0ff"/><circle cx="6.2" cy="6.9" r=".85" fill="#dff0ff"/><circle cx="10.2" cy="6.9" r=".85" fill="#dff0ff"/><circle cx="14.2" cy="6.9" r=".85" fill="#dff0ff"/><circle cx="18.0" cy="6.9" r=".85" fill="#dff0ff"/><circle cx="4.2" cy="10.6" r=".85" fill="#dff0ff"/><circle cx="8.2" cy="10.6" r=".85" fill="#dff0ff"/><circle cx="12.2" cy="10.6" r=".85" fill="#dff0ff"/><circle cx="16.2" cy="10.6" r=".85" fill="#dff0ff"/><circle cx="2.2" cy="14.3" r=".85" fill="#dff0ff"/><circle cx="6.2" cy="14.3" r=".85" fill="#dff0ff"/><circle cx="10.2" cy="14.3" r=".85" fill="#dff0ff"/><circle cx="14.2" cy="14.3" r=".85" fill="#dff0ff"/><circle cx="18.0" cy="14.3" r=".85" fill="#dff0ff"/><circle cx="4.2" cy="18.0" r=".85" fill="#dff0ff"/><circle cx="8.2" cy="18.0" r=".85" fill="#dff0ff"/><circle cx="12.2" cy="18.0" r=".85" fill="#dff0ff"/><circle cx="16.2" cy="18.0" r=".85" fill="#dff0ff"/></g><circle cx="20" cy="20" r="19" fill="none" stroke="rgba(255,240,236,.8)" stroke-width="1.3"/></svg></div>
<div class="row" style="top:548.0px"><div class="nm"><b>Iceland</b></div><div class="rk"><span class="d1">6</span></div><div class="pill e"><span class="v">$78,480</span></div><svg class="fl" viewBox="0 0 40 40" role="img" aria-label="Iceland flag"><g clip-path="url(#cc)"><rect x="0.00" y="0.00" width="40.00" height="40.00" fill="#25599e"/><rect x="10.40" y="0.00" width="8.50" height="40.00" fill="#fbf8f7"/><rect x="0.00" y="15.10" width="40.00" height="9.60" fill="#fbf8f7"/><rect x="12.10" y="0.00" width="5.00" height="40.00" fill="#e84658"/><rect x="0.00" y="17.30" width="40.00" height="5.40" fill="#e84658"/></g><circle cx="20" cy="20" r="19" fill="none" stroke="rgba(255,240,236,.8)" stroke-width="1.3"/></svg></div>
<div class="row" style="top:588.0px"><div class="nm"><b>Ireland</b></div><div class="rk"><span class="d1">7</span></div><div class="pill e"><span class="v">$77,920</span></div><svg class="fl" viewBox="0 0 40 40" role="img" aria-label="Ireland flag"><g clip-path="url(#cc)"><rect x="0.00" y="0.00" width="12.80" height="40.00" fill="#7cb843"/><rect x="12.60" y="0.00" width="13.20" height="40.00" fill="#fbf8f7"/><rect x="25.60" y="0.00" width="14.60" height="40.00" fill="#f88128"/></g><circle cx="20" cy="20" r="19" fill="none" stroke="rgba(255,240,236,.8)" stroke-width="1.3"/></svg></div>
<div class="row" style="top:628.0px"><div class="nm"><b>Qatar</b></div><div class="rk"><span class="d1">8</span></div><div class="pill a"><span class="v">$76,720</span></div><svg class="fl" viewBox="0 0 40 40" role="img" aria-label="Qatar flag"><g clip-path="url(#cc)"><rect x="0.00" y="0.00" width="40.00" height="40.00" fill="#fbf8f7"/><polygon points="40,0 16.6,0 11.00,3.11 16.60,5.22 11.00,7.33 16.60,9.44 11.00,11.56 16.60,13.67 11.00,15.78 16.60,17.89 11.00,20.00 16.60,22.11 11.00,24.22 16.60,26.33 11.00,28.44 16.60,30.56 11.00,32.67 16.60,34.78 11.00,36.89 16.60,39.00 16.6,40 40,40" fill="#bd4981"/></g><circle cx="20" cy="20" r="19" fill="none" stroke="rgba(255,240,236,.8)" stroke-width="1.3"/></svg></div>
<div class="row" style="top:668.0px"><div class="nm"><b>Singapore</b></div><div class="rk"><span class="d1">9</span></div><div class="pill a"><span class="v">$74,750</span></div><svg class="fl" viewBox="0 0 40 40" role="img" aria-label="Singapore flag"><g clip-path="url(#cc)"><rect x="0.00" y="0.00" width="40.00" height="20.40" fill="#e84658"/><rect x="0.00" y="20.20" width="40.00" height="20.00" fill="#fbf8f7"/><circle cx="11.4" cy="11.6" r="4.7" fill="#fbf8f7"/><circle cx="13.3" cy="11.6" r="4.3" fill="#e84658"/><polygon points="15.90,7.45 16.22,8.26 17.09,8.31 16.42,8.87 16.63,9.71 15.90,9.25 15.17,9.71 15.38,8.87 14.71,8.31 15.58,8.26" fill="#fbf8f7"/><polygon points="18.47,9.32 18.79,10.12 19.66,10.18 18.99,10.74 19.20,11.58 18.47,11.12 17.73,11.58 17.94,10.74 17.28,10.18 18.14,10.12" fill="#fbf8f7"/><polygon points="17.49,12.33 17.81,13.14 18.68,13.20 18.01,13.75 18.22,14.60 17.49,14.13 16.75,14.60 16.96,13.75 16.30,13.20 17.16,13.14" fill="#fbf8f7"/><polygon points="14.31,12.33 14.64,13.14 15.50,13.20 14.84,13.75 15.05,14.60 14.31,14.13 13.58,14.60 13.79,13.75 13.12,13.20 13.99,13.14" fill="#fbf8f7"/><polygon points="13.33,9.32 13.66,10.12 14.52,10.18 13.86,10.74 14.07,11.58 13.33,11.12 12.60,11.58 12.81,10.74 12.14,10.18 13.01,10.12" fill="#fbf8f7"/></g><circle cx="20" cy="20" r="19" fill="none" stroke="rgba(255,240,236,.8)" stroke-width="1.3"/></svg></div>
<div class="row" style="top:708.0px"><div class="nm" style="transform:scaleX(0.961)"><b>Denmark</b></div><div class="rk"><span class="d2">10</span></div><div class="pill e"><span class="v">$73,790</span></div><svg class="fl" viewBox="0 0 40 40" role="img" aria-label="Denmark flag"><g clip-path="url(#cc)"><rect x="0.00" y="0.00" width="40.00" height="40.00" fill="#e84658"/><rect x="10.00" y="0.00" width="9.20" height="40.00" fill="#fbf8f7"/><rect x="0.00" y="15.20" width="40.00" height="9.60" fill="#fbf8f7"/></g><circle cx="20" cy="20" r="19" fill="none" stroke="rgba(255,240,236,.8)" stroke-width="1.3"/></svg></div>
<div class="row" style="top:748.0px"><div class="nm"><b>Netherlands</b></div><div class="rk"><span class="d2">11</span></div><div class="pill e"><span class="v">$62,840</span></div><svg class="fl" viewBox="0 0 40 40" role="img" aria-label="Netherlands flag"><g clip-path="url(#cc)"><rect x="0.00" y="0.00" width="40.00" height="13.80" fill="#e84658"/><rect x="0.00" y="13.60" width="40.00" height="13.20" fill="#fbf8f7"/><rect x="0.00" y="26.60" width="40.00" height="13.60" fill="#3b82c6"/></g><circle cx="20" cy="20" r="19" fill="none" stroke="rgba(255,240,236,.8)" stroke-width="1.3"/></svg></div>
<div class="row" style="top:788.0px"><div class="nm" style="transform:scaleX(0.891)"><b>Australia</b></div><div class="rk"><span class="d2">12</span></div><div class="pill o"><span class="v">$62,550</span></div><svg class="fl" viewBox="0 0 40 40" role="img" aria-label="Australia flag"><g clip-path="url(#cc)"><rect x="0.00" y="0.00" width="40.00" height="40.00" fill="#2d63a9"/><rect x="0.00" y="0.00" width="19.60" height="20.20" fill="#2b5099"/><g><g clip-path="url(#cq216)"><path d="M3.00 3.00L21.60 22.20" stroke="#fbf8f7" stroke-width="5.6"/><path d="M3.00 3.00L21.60 22.20" stroke="#d34a5c" stroke-width="2.4"/><rect x="0.00" y="0.00" width="7.60" height="20.20" fill="#fbf8f7"/><rect x="0.00" y="0.00" width="19.60" height="8.00" fill="#fbf8f7"/><rect x="0.00" y="0.00" width="5.60" height="20.20" fill="#d34a5c"/><rect x="0.00" y="0.00" width="19.60" height="5.60" fill="#d34a5c"/></g></g><polygon points="4.60,21.20 5.12,22.72 6.63,22.18 5.77,23.53 7.13,24.38 5.54,24.55 5.73,26.14 4.60,25.00 3.47,26.14 3.66,24.55 2.07,24.38 3.43,23.53 2.57,22.18 4.08,22.72" fill="#fbf8f7"/><polygon points="25.80,14.50 26.26,15.75 27.52,15.33 26.83,16.47 27.94,17.19 26.63,17.36 26.75,18.68 25.80,17.76 24.85,18.68 24.97,17.36 23.66,17.19 24.77,16.47 24.08,15.33 25.34,15.75" fill="#fbf8f7"/><polygon points="32.40,10.80 32.86,12.05 34.12,11.63 33.43,12.77 34.54,13.49 33.23,13.66 33.35,14.98 32.40,14.06 31.45,14.98 31.57,13.66 30.26,13.49 31.37,12.77 30.68,11.63 31.94,12.05" fill="#fbf8f7"/><polygon points="32.00,23.60 32.46,24.85 33.72,24.43 33.03,25.57 34.14,26.29 32.83,26.46 32.95,27.78 32.00,26.86 31.05,27.78 31.17,26.46 29.86,26.29 30.97,25.57 30.28,24.43 31.54,24.85" fill="#fbf8f7"/><polygon points="28.50,20.60 28.75,21.15 29.36,21.22 28.91,21.63 29.03,22.23 28.50,21.93 27.97,22.23 28.09,21.63 27.64,21.22 28.25,21.15" fill="#fbf8f7"/></g><circle cx="20" cy="20" r="19" fill="none" stroke="rgba(255,240,236,.8)" stroke-width="1.3"/></svg></div>
<div class="row" style="top:828.0px"><div class="nm"><b>Sweden</b></div><div class="rk"><span class="d2">13</span></div><div class="pill e"><span class="v">$58,820</span></div><svg class="fl" viewBox="0 0 40 40" role="img" aria-label="Sweden flag"><g clip-path="url(#cc)"><rect x="0.00" y="0.00" width="40.00" height="40.00" fill="#3e85bf"/><rect x="9.80" y="0.00" width="9.80" height="40.00" fill="#fbd433"/><rect x="0.00" y="15.20" width="40.00" height="9.60" fill="#fbd433"/></g><circle cx="20" cy="20" r="19" fill="none" stroke="rgba(255,240,236,.8)" stroke-width="1.3"/></svg></div>
<div class="row" style="top:868.0px"><div class="nm"><span class="sar">SAR</span><b>Hong Kong</b></div><div class="rk"><span class="d2">14</span></div><div class="pill a"><span class="v" style="transform:scaleX(0.930)">$57,100</span></div><svg class="fl" viewBox="0 0 40 40" role="img" aria-label="Hong Kong flag"><g clip-path="url(#cc)"><rect x="0.00" y="0.00" width="40.00" height="40.00" fill="#e8415a"/><g transform="translate(19.700 20.500) rotate(-6)"><path d="M0 0C-2.300 -1.400 -3.900 -4.400 -2.800 -7.300C-1.700 -9.500 1 -10.300 3.200 -10.600C1.700 -9.500 1.400 -8.500 1.900 -6.900C2.600 -4.500 1.900 -1.800 0 0z" fill="#fdeef0"/><circle cx="-.500" cy="-6.200" r=".480" fill="#d94a60"/><path d="M-.200 -1.200C-.900 -2.600 -1.100 -3.800 -.800 -5" fill="none" stroke="#e8415a" stroke-width=".350"/></g><g transform="translate(19.700 20.500) rotate(66)"><path d="M0 0C-2.300 -1.400 -3.900 -4.400 -2.800 -7.300C-1.700 -9.500 1 -10.300 3.200 -10.600C1.700 -9.500 1.400 -8.500 1.900 -6.900C2.600 -4.500 1.900 -1.800 0 0z" fill="#fdeef0"/><circle cx="-.500" cy="-6.200" r=".480" fill="#d94a60"/><path d="M-.200 -1.200C-.900 -2.600 -1.100 -3.800 -.800 -5" fill="none" stroke="#e8415a" stroke-width=".350"/></g><g transform="translate(19.700 20.500) rotate(138)"><path d="M0 0C-2.300 -1.400 -3.900 -4.400 -2.800 -7.300C-1.700 -9.500 1 -10.300 3.200 -10.600C1.700 -9.500 1.400 -8.500 1.900 -6.900C2.600 -4.500 1.900 -1.800 0 0z" fill="#fdeef0"/><circle cx="-.500" cy="-6.200" r=".480" fill="#d94a60"/><path d="M-.200 -1.200C-.900 -2.600 -1.100 -3.800 -.800 -5" fill="none" stroke="#e8415a" stroke-width=".350"/></g><g transform="translate(19.700 20.500) rotate(210)"><path d="M0 0C-2.300 -1.400 -3.900 -4.400 -2.800 -7.300C-1.700 -9.500 1 -10.300 3.200 -10.600C1.700 -9.500 1.400 -8.500 1.900 -6.900C2.600 -4.500 1.900 -1.800 0 0z" fill="#fdeef0"/><circle cx="-.500" cy="-6.200" r=".480" fill="#d94a60"/><path d="M-.200 -1.200C-.900 -2.600 -1.100 -3.800 -.800 -5" fill="none" stroke="#e8415a" stroke-width=".350"/></g><g transform="translate(19.700 20.500) rotate(282)"><path d="M0 0C-2.300 -1.400 -3.900 -4.400 -2.800 -7.300C-1.700 -9.500 1 -10.300 3.200 -10.600C1.700 -9.500 1.400 -8.500 1.900 -6.900C2.600 -4.500 1.900 -1.800 0 0z" fill="#fdeef0"/><circle cx="-.500" cy="-6.200" r=".480" fill="#d94a60"/><path d="M-.200 -1.200C-.900 -2.600 -1.100 -3.800 -.800 -5" fill="none" stroke="#e8415a" stroke-width=".350"/></g></g><circle cx="20" cy="20" r="19" fill="none" stroke="rgba(255,240,236,.8)" stroke-width="1.3"/></svg></div>
<div class="row" style="top:908.0px"><div class="nm"><b>Germany</b></div><div class="rk"><span class="d2">15</span></div><div class="pill e"><span class="v">$54,960</span></div><svg class="fl" viewBox="0 0 40 40" role="img" aria-label="Germany flag"><g clip-path="url(#cc)"><rect x="0.00" y="0.00" width="40.00" height="13.50" fill="#2e2d2d"/><rect x="0.00" y="13.30" width="40.00" height="13.30" fill="#e84658"/><rect x="0.00" y="26.40" width="40.00" height="13.80" fill="#fad42c"/></g><circle cx="20" cy="20" r="19" fill="none" stroke="rgba(255,240,236,.8)" stroke-width="1.3"/></svg></div>
<div class="row" style="top:948.0px"><div class="nm"><b>Belgium</b></div><div class="rk"><span class="d2">16</span></div><div class="pill e"><span class="v">$54,840</span></div><svg class="fl" viewBox="0 0 40 40" role="img" aria-label="Belgium flag"><g clip-path="url(#cc)"><rect x="0.00" y="0.00" width="12.90" height="40.00" fill="#2e2d2d"/><rect x="12.70" y="0.00" width="13.70" height="40.00" fill="#fad82f"/><rect x="26.20" y="0.00" width="14.00" height="40.00" fill="#e84658"/></g><circle cx="20" cy="20" r="19" fill="none" stroke="rgba(255,240,236,.8)" stroke-width="1.3"/></svg></div>
<div class="row" style="top:988.0px"><div class="nm" style="transform:scaleX(0.893)"><b>Austria</b></div><div class="rk"><span class="d2">17</span></div><div class="pill e"><span class="v" style="transform:scaleX(0.930)">$54,160</span></div><svg class="fl" viewBox="0 0 40 40" role="img" aria-label="Austria flag"><g clip-path="url(#cc)"><rect x="0.00" y="0.00" width="40.00" height="13.80" fill="#e8464f"/><rect x="0.00" y="13.60" width="40.00" height="13.20" fill="#fbf8f7"/><rect x="0.00" y="26.60" width="40.00" height="13.60" fill="#e8464f"/></g><circle cx="20" cy="20" r="19" fill="none" stroke="rgba(255,240,236,.8)" stroke-width="1.3"/></svg></div>
<div class="row" style="top:1028.0px"><div class="nm" style="transform:scaleX(0.919)"><b>Canada</b></div><div class="rk"><span class="d2">18</span></div><div class="pill n"><span class="v">$53,340</span></div><svg class="fl" viewBox="0 0 40 40" role="img" aria-label="Canada flag"><g clip-path="url(#cc)"><rect x="0.00" y="0.00" width="9.70" height="40.00" fill="#e3415a"/><rect x="9.50" y="0.00" width="20.30" height="40.00" fill="#fbf8f7"/><rect x="29.60" y="0.00" width="10.60" height="40.00" fill="#e3415a"/><path transform="translate(19.500 20.300) scale(.740)" d="M0,-10L2,-6.500L4.500,-7.500L3.500,-2L6.500,-4.500L7.200,-2.800L10,-3.200L8.800,.5L10,1.500L5.500,5L6.200,7L.6,6.200L.6,10L-.6,10L-.6,6.200L-6.200,7L-5.500,5L-10,1.500L-8.800,.5L-10,-3.200L-7.200,-2.800L-6.500,-4.500L-3.500,-2L-4.500,-7.500L-2,-6.500Z" fill="#e3415a"/></g><circle cx="20" cy="20" r="19" fill="none" stroke="rgba(255,240,236,.8)" stroke-width="1.3"/></svg></div>
<div class="row" style="top:1068.0px"><div class="nm"><b>Israel</b></div><div class="rk"><span class="d2">19</span></div><div class="pill a"><span class="v">$52,940</span></div><svg class="fl" viewBox="0 0 40 40" role="img" aria-label="Israel flag"><g clip-path="url(#cc)"><rect x="0.00" y="0.00" width="40.00" height="40.00" fill="#fbf8f7"/><rect x="0.00" y="6.80" width="40.00" height="5.00" fill="#3b82bf"/><rect x="0.00" y="28.30" width="40.00" height="5.00" fill="#3b82bf"/><polygon points="19.80,14.80 24.48,22.90 15.12,22.90" fill="none" stroke="#356fae" stroke-width="1.250" stroke-linejoin="miter"/><polygon points="19.80,25.60 15.12,17.50 24.48,17.50" fill="none" stroke="#356fae" stroke-width="1.250" stroke-linejoin="miter"/></g><circle cx="20" cy="20" r="19" fill="none" stroke="rgba(255,240,236,.8)" stroke-width="1.3"/></svg></div>
<div class="row" style="top:1108.0px"><div class="nm"><b>Finland</b></div><div class="rk"><span class="d2">20</span></div><div class="pill e"><span class="v" style="transform:scaleX(0.895)">$51,710</span></div><svg class="fl" viewBox="0 0 40 40" role="img" aria-label="Finland flag"><g clip-path="url(#cc)"><rect x="0.00" y="0.00" width="40.00" height="40.00" fill="#fbf8f7"/><rect x="10.00" y="0.00" width="9.20" height="40.00" fill="#3579ba"/><rect x="0.00" y="15.60" width="40.00" height="9.00" fill="#3579ba"/></g><circle cx="20" cy="20" r="19" fill="none" stroke="rgba(255,240,236,.8)" stroke-width="1.3"/></svg></div>
<div class="row" style="top:1148.0px"><div class="nm" style="transform:scaleX(0.89)"><b>UAE</b></div><div class="rk"><span class="d2">21</span></div><div class="pill a"><span class="v">$49,500</span></div><svg class="fl" viewBox="0 0 40 40" role="img" aria-label="UAE flag"><g clip-path="url(#cc)"><rect x="0.00" y="0.00" width="40.00" height="13.80" fill="#5d9733"/><rect x="0.00" y="13.60" width="40.00" height="13.70" fill="#fbf8f7"/><rect x="0.00" y="27.10" width="40.00" height="13.10" fill="#2e2d2d"/><rect x="0.00" y="0.00" width="13.20" height="40.00" fill="#e5465a"/></g><circle cx="20" cy="20" r="19" fill="none" stroke="rgba(255,240,236,.8)" stroke-width="1.3"/></svg></div>
<div class="row" style="top:1188.0px"><div class="nm"><b>Andorra</b></div><div class="rk"><span class="d2">22</span></div><div class="pill e"><span class="v">$48,870</span></div><svg class="fl" viewBox="0 0 40 40" role="img" aria-label="Andorra flag"><g clip-path="url(#cc)"><rect x="0.00" y="0.00" width="11.00" height="40.00" fill="#23559d"/><rect x="10.80" y="0.00" width="18.40" height="40.00" fill="#fadf2b"/><rect x="29.00" y="0.00" width="11.20" height="40.00" fill="#c94148"/><path d="M13.800 12.500c2-.900 4-.300 6 .400 2-.700 4-1.300 6-.400l.900 1.500-1 1.200v9.500c0 2.600-2.800 4-5.900 5-3.100-1-5.900-2.400-5.900-5v-9.500l-1-1.200z" fill="#e9a23c"/><path d="M15.800 16h3.600v5.400h-3.600zM20.600 16h3.600v5.400h-3.600zM15.800 22.300h3.600v4.600c-1.700-.500-3.100-1.400-3.600-2.600zM20.600 22.300h3.600v2c-.5 1.200-1.900 2.100-3.600 2.600z" fill="#d06a2c"/><path d="M16.300 18h2.600v1.100h-2.600zM21.200 23.300h2.400v.9h-2.400zM21.200 25h2v.8h-2z" fill="#fbe9c0"/></g><circle cx="20" cy="20" r="19" fill="none" stroke="rgba(255,240,236,.8)" stroke-width="1.3"/></svg></div>
<div class="row" style="top:1228.0px"><div class="nm"><b>UK</b></div><div class="rk"><span class="d2">23</span></div><div class="pill e"><span class="v" style="transform:scaleX(0.930)">$48,610</span></div><svg class="fl" viewBox="0 0 40 40" role="img" aria-label="UK flag"><g clip-path="url(#cc)"><rect x="0.00" y="0.00" width="40.00" height="40.00" fill="#29559b"/><path d="M-2 4.200L42 35.800M42 4.200L-2 35.800" stroke="#fbf8f7" stroke-width="7.600"/><path d="M-2 4.200L42 35.800M42 4.200L-2 35.800" stroke="#cf4f5f" stroke-width="2.200"/><rect x="14.20" y="0.00" width="11.40" height="40.00" fill="#fbf8f7"/><rect x="0.00" y="14.30" width="40.00" height="11.50" fill="#fbf8f7"/><rect x="16.20" y="0.00" width="7.40" height="40.00" fill="#e84658"/><rect x="0.00" y="16.30" width="40.00" height="7.50" fill="#e84658"/></g><circle cx="20" cy="20" r="19" fill="none" stroke="rgba(255,240,236,.8)" stroke-width="1.3"/></svg></div>
<div class="row" style="top:1268.0px"><div class="nm" style="transform:scaleX(0.957)"><b>New Zealand</b></div><div class="rk"><span class="d2">24</span></div><div class="pill o"><span class="v">$46,280</span></div><svg class="fl" viewBox="0 0 40 40" role="img" aria-label="New Zealand flag"><g clip-path="url(#cc)"><rect x="0.00" y="0.00" width="40.00" height="40.00" fill="#255ba1"/><rect x="0.00" y="0.00" width="19.40" height="19.80" fill="#2b5099"/><g><g clip-path="url(#cq213)"><path d="M3.00 3.00L21.40 21.80" stroke="#fbf8f7" stroke-width="5.6"/><path d="M3.00 3.00L21.40 21.80" stroke="#d34a5c" stroke-width="2.4"/><rect x="0.00" y="0.00" width="7.60" height="19.80" fill="#fbf8f7"/><rect x="0.00" y="0.00" width="19.40" height="8.00" fill="#fbf8f7"/><rect x="0.00" y="0.00" width="5.60" height="19.80" fill="#d34a5c"/><rect x="0.00" y="0.00" width="19.40" height="5.60" fill="#d34a5c"/></g></g><polygon points="29.60,8.80 30.28,10.47 32.07,10.60 30.69,11.76 31.13,13.50 29.60,12.55 28.07,13.50 28.51,11.76 27.13,10.60 28.92,10.47" fill="#fbf8f7"/><polygon points="29.60,9.95 29.96,10.90 30.98,10.95 30.19,11.59 30.45,12.57 29.60,12.02 28.75,12.57 29.01,11.59 28.22,10.95 29.24,10.90" fill="#e0506a"/><polygon points="24.30,15.30 24.98,16.97 26.77,17.10 25.39,18.26 25.83,20.00 24.30,19.05 22.77,20.00 23.21,18.26 21.83,17.10 23.62,16.97" fill="#fbf8f7"/><polygon points="24.30,16.45 24.66,17.40 25.68,17.45 24.89,18.09 25.15,19.07 24.30,18.52 23.45,19.07 23.71,18.09 22.92,17.45 23.94,17.40" fill="#e0506a"/><polygon points="35.00,15.30 35.68,16.97 37.47,17.10 36.09,18.26 36.53,20.00 35.00,19.05 33.47,20.00 33.91,18.26 32.53,17.10 34.32,16.97" fill="#fbf8f7"/><polygon points="35.00,16.45 35.36,17.40 36.38,17.45 35.59,18.09 35.85,19.07 35.00,18.52 34.15,19.07 34.41,18.09 33.62,17.45 34.64,17.40" fill="#e0506a"/><polygon points="30.00,25.20 30.68,26.87 32.47,27.00 31.09,28.16 31.53,29.90 30.00,28.95 28.47,29.90 28.91,28.16 27.53,27.00 29.32,26.87" fill="#fbf8f7"/><polygon points="30.00,26.35 30.36,27.30 31.38,27.35 30.59,27.99 30.85,28.97 30.00,28.42 29.15,28.97 29.41,27.99 28.62,27.35 29.64,27.30" fill="#e0506a"/></g><circle cx="20" cy="20" r="19" fill="none" stroke="rgba(255,240,236,.8)" stroke-width="1.3"/></svg></div>
<div class="row" style="top:1308.0px"><div class="nm" style="transform:scaleX(0.896)"><b>France</b></div><div class="rk"><span class="d2">25</span></div><div class="pill e"><span class="v" style="transform:scaleX(0.930)">$45,180</span></div><svg class="fl" viewBox="0 0 40 40" role="img" aria-label="France flag"><g clip-path="url(#cc)"><rect x="0.00" y="0.00" width="13.40" height="40.00" fill="#3f84ca"/><rect x="13.20" y="0.00" width="13.40" height="40.00" fill="#fbf8f7"/><rect x="26.40" y="0.00" width="13.80" height="40.00" fill="#e84658"/></g><circle cx="20" cy="20" r="19" fill="none" stroke="rgba(255,240,236,.8)" stroke-width="1.3"/></svg></div>
</section>
<section class="col c3">
<div class="row" style="top:348.0px"><div class="nm" style="transform:scaleX(0.955)"><b>Luxembourg</b></div><div class="rk"><span class="d1">1</span></div><div class="pill e"><span class="v">$395,340</span></div><svg class="fl" viewBox="0 0 40 40" role="img" aria-label="Luxembourg flag"><g clip-path="url(#cc)"><rect x="0.00" y="0.00" width="40.00" height="13.50" fill="#d2413f"/><rect x="0.00" y="13.30" width="40.00" height="13.80" fill="#fbf8f7"/><rect x="0.00" y="26.90" width="40.00" height="13.30" fill="#468ed0"/></g><circle cx="20" cy="20" r="19" fill="none" stroke="rgba(255,240,236,.8)" stroke-width="1.3"/></svg></div>
<div class="row" style="top:388.0px"><div class="nm" style="transform:scaleX(0.891)"><b>Australia</b></div><div class="rk"><span class="d1">2</span></div><div class="pill o"><span class="v">$268,424</span></div><svg class="fl" viewBox="0 0 40 40" role="img" aria-label="Australia flag"><g clip-path="url(#cc)"><rect x="0.00" y="0.00" width="40.00" height="40.00" fill="#2d63a9"/><rect x="0.00" y="0.00" width="19.60" height="20.20" fill="#2b5099"/><g><g clip-path="url(#cq216)"><path d="M3.00 3.00L21.60 22.20" stroke="#fbf8f7" stroke-width="5.6"/><path d="M3.00 3.00L21.60 22.20" stroke="#d34a5c" stroke-width="2.4"/><rect x="0.00" y="0.00" width="7.60" height="20.20" fill="#fbf8f7"/><rect x="0.00" y="0.00" width="19.60" height="8.00" fill="#fbf8f7"/><rect x="0.00" y="0.00" width="5.60" height="20.20" fill="#d34a5c"/><rect x="0.00" y="0.00" width="19.60" height="5.60" fill="#d34a5c"/></g></g><polygon points="4.60,21.20 5.12,22.72 6.63,22.18 5.77,23.53 7.13,24.38 5.54,24.55 5.73,26.14 4.60,25.00 3.47,26.14 3.66,24.55 2.07,24.38 3.43,23.53 2.57,22.18 4.08,22.72" fill="#fbf8f7"/><polygon points="25.80,14.50 26.26,15.75 27.52,15.33 26.83,16.47 27.94,17.19 26.63,17.36 26.75,18.68 25.80,17.76 24.85,18.68 24.97,17.36 23.66,17.19 24.77,16.47 24.08,15.33 25.34,15.75" fill="#fbf8f7"/><polygon points="32.40,10.80 32.86,12.05 34.12,11.63 33.43,12.77 34.54,13.49 33.23,13.66 33.35,14.98 32.40,14.06 31.45,14.98 31.57,13.66 30.26,13.49 31.37,12.77 30.68,11.63 31.94,12.05" fill="#fbf8f7"/><polygon points="32.00,23.60 32.46,24.85 33.72,24.43 33.03,25.57 34.14,26.29 32.83,26.46 32.95,27.78 32.00,26.86 31.05,27.78 31.17,26.46 29.86,26.29 30.97,25.57 30.28,24.43 31.54,24.85" fill="#fbf8f7"/><polygon points="28.50,20.60 28.75,21.15 29.36,21.22 28.91,21.63 29.03,22.23 28.50,21.93 27.97,22.23 28.09,21.63 27.64,21.22 28.25,21.15" fill="#fbf8f7"/></g><circle cx="20" cy="20" r="19" fill="none" stroke="rgba(255,240,236,.8)" stroke-width="1.3"/></svg></div>
<div class="row" style="top:428.0px"><div class="nm"><b>Belgium</b></div><div class="rk"><span class="d1">3</span></div><div class="pill e"><span class="v">$253,539</span></div><svg class="fl" viewBox="0 0 40 40" role="img" aria-label="Belgium flag"><g clip-path="url(#cc)"><rect x="0.00" y="0.00" width="12.90" height="40.00" fill="#2e2d2d"/><rect x="12.70" y="0.00" width="13.70" height="40.00" fill="#fad82f"/><rect x="26.20" y="0.00" width="14.00" height="40.00" fill="#e84658"/></g><circle cx="20" cy="20" r="19" fill="none" stroke="rgba(255,240,236,.8)" stroke-width="1.3"/></svg></div>
<div class="row" style="top:468.0px"><div class="nm"><span class="sar">SAR</span><b>Hong Kong</b></div><div class="rk"><span class="d1">4</span></div><div class="pill a"><span class="v" style="transform:scaleX(0.935)">$222,015</span></div><svg class="fl" viewBox="0 0 40 40" role="img" aria-label="Hong Kong flag"><g clip-path="url(#cc)"><rect x="0.00" y="0.00" width="40.00" height="40.00" fill="#e8415a"/><g transform="translate(19.700 20.500) rotate(-6)"><path d="M0 0C-2.300 -1.400 -3.900 -4.400 -2.800 -7.300C-1.700 -9.500 1 -10.300 3.200 -10.600C1.700 -9.500 1.400 -8.500 1.900 -6.900C2.600 -4.500 1.900 -1.800 0 0z" fill="#fdeef0"/><circle cx="-.500" cy="-6.200" r=".480" fill="#d94a60"/><path d="M-.200 -1.200C-.900 -2.600 -1.100 -3.800 -.800 -5" fill="none" stroke="#e8415a" stroke-width=".350"/></g><g transform="translate(19.700 20.500) rotate(66)"><path d="M0 0C-2.300 -1.400 -3.900 -4.400 -2.800 -7.300C-1.700 -9.500 1 -10.300 3.200 -10.600C1.700 -9.500 1.400 -8.500 1.900 -6.900C2.600 -4.500 1.900 -1.800 0 0z" fill="#fdeef0"/><circle cx="-.500" cy="-6.200" r=".480" fill="#d94a60"/><path d="M-.200 -1.200C-.900 -2.600 -1.100 -3.800 -.800 -5" fill="none" stroke="#e8415a" stroke-width=".350"/></g><g transform="translate(19.700 20.500) rotate(138)"><path d="M0 0C-2.300 -1.400 -3.900 -4.400 -2.800 -7.300C-1.700 -9.500 1 -10.300 3.200 -10.600C1.700 -9.500 1.400 -8.500 1.900 -6.900C2.600 -4.500 1.900 -1.800 0 0z" fill="#fdeef0"/><circle cx="-.500" cy="-6.200" r=".480" fill="#d94a60"/><path d="M-.200 -1.200C-.900 -2.600 -1.100 -3.800 -.800 -5" fill="none" stroke="#e8415a" stroke-width=".350"/></g><g transform="translate(19.700 20.500) rotate(210)"><path d="M0 0C-2.300 -1.400 -3.900 -4.400 -2.800 -7.300C-1.700 -9.500 1 -10.300 3.200 -10.600C1.700 -9.500 1.400 -8.500 1.900 -6.900C2.600 -4.500 1.900 -1.800 0 0z" fill="#fdeef0"/><circle cx="-.500" cy="-6.200" r=".480" fill="#d94a60"/><path d="M-.200 -1.200C-.900 -2.600 -1.100 -3.800 -.800 -5" fill="none" stroke="#e8415a" stroke-width=".350"/></g><g transform="translate(19.700 20.500) rotate(282)"><path d="M0 0C-2.300 -1.400 -3.900 -4.400 -2.800 -7.300C-1.700 -9.500 1 -10.300 3.200 -10.600C1.700 -9.500 1.400 -8.500 1.900 -6.900C2.600 -4.500 1.900 -1.800 0 0z" fill="#fdeef0"/><circle cx="-.500" cy="-6.200" r=".480" fill="#d94a60"/><path d="M-.200 -1.200C-.900 -2.600 -1.100 -3.800 -.800 -5" fill="none" stroke="#e8415a" stroke-width=".350"/></g></g><circle cx="20" cy="20" r="19" fill="none" stroke="rgba(255,240,236,.8)" stroke-width="1.3"/></svg></div>
<div class="row" style="top:508.0px"><div class="nm" style="transform:scaleX(0.961)"><b>Denmark</b></div><div class="rk"><span class="d1">5</span></div><div class="pill e"><span class="v" style="transform:scaleX(0.935)">$216,098</span></div><svg class="fl" viewBox="0 0 40 40" role="img" aria-label="Denmark flag"><g clip-path="url(#cc)"><rect x="0.00" y="0.00" width="40.00" height="40.00" fill="#e84658"/><rect x="10.00" y="0.00" width="9.20" height="40.00" fill="#fbf8f7"/><rect x="0.00" y="15.20" width="40.00" height="9.60" fill="#fbf8f7"/></g><circle cx="20" cy="20" r="19" fill="none" stroke="rgba(255,240,236,.8)" stroke-width="1.3"/></svg></div>
<div class="row" style="top:548.0px"><div class="nm" style="transform:scaleX(0.957)"><b>New Zealand</b></div><div class="rk"><span class="d1">6</span></div><div class="pill o"><span class="v">$207,707</span></div><svg class="fl" viewBox="0 0 40 40" role="img" aria-label="New Zealand flag"><g clip-path="url(#cc)"><rect x="0.00" y="0.00" width="40.00" height="40.00" fill="#255ba1"/><rect x="0.00" y="0.00" width="19.40" height="19.80" fill="#2b5099"/><g><g clip-path="url(#cq213)"><path d="M3.00 3.00L21.40 21.80" stroke="#fbf8f7" stroke-width="5.6"/><path d="M3.00 3.00L21.40 21.80" stroke="#d34a5c" stroke-width="2.4"/><rect x="0.00" y="0.00" width="7.60" height="19.80" fill="#fbf8f7"/><rect x="0.00" y="0.00" width="19.40" height="8.00" fill="#fbf8f7"/><rect x="0.00" y="0.00" width="5.60" height="19.80" fill="#d34a5c"/><rect x="0.00" y="0.00" width="19.40" height="5.60" fill="#d34a5c"/></g></g><polygon points="29.60,8.80 30.28,10.47 32.07,10.60 30.69,11.76 31.13,13.50 29.60,12.55 28.07,13.50 28.51,11.76 27.13,10.60 28.92,10.47" fill="#fbf8f7"/><polygon points="29.60,9.95 29.96,10.90 30.98,10.95 30.19,11.59 30.45,12.57 29.60,12.02 28.75,12.57 29.01,11.59 28.22,10.95 29.24,10.90" fill="#e0506a"/><polygon points="24.30,15.30 24.98,16.97 26.77,17.10 25.39,18.26 25.83,20.00 24.30,19.05 22.77,20.00 23.21,18.26 21.83,17.10 23.62,16.97" fill="#fbf8f7"/><polygon points="24.30,16.45 24.66,17.40 25.68,17.45 24.89,18.09 25.15,19.07 24.30,18.52 23.45,19.07 23.71,18.09 22.92,17.45 23.94,17.40" fill="#e0506a"/><polygon points="35.00,15.30 35.68,16.97 37.47,17.10 36.09,18.26 36.53,20.00 35.00,19.05 33.47,20.00 33.91,18.26 32.53,17.10 34.32,16.97" fill="#fbf8f7"/><polygon points="35.00,16.45 35.36,17.40 36.38,17.45 35.59,18.09 35.85,19.07 35.00,18.52 34.15,19.07 34.41,18.09 33.62,17.45 34.64,17.40" fill="#e0506a"/><polygon points="30.00,25.20 30.68,26.87 32.47,27.00 31.09,28.16 31.53,29.90 30.00,28.95 28.47,29.90 28.91,28.16 27.53,27.00 29.32,26.87" fill="#fbf8f7"/><polygon points="30.00,26.35 30.36,27.30 31.38,27.35 30.59,27.99 30.85,28.97 30.00,28.42 29.15,28.97 29.41,27.99 28.62,27.35 29.64,27.30" fill="#e0506a"/></g><circle cx="20" cy="20" r="19" fill="none" stroke="rgba(255,240,236,.8)" stroke-width="1.3"/></svg></div>
<div class="row" style="top:588.0px"><div class="nm"><b>Switzerland</b></div><div class="rk"><span class="d1">7</span></div><div class="pill e"><span class="v" style="transform:scaleX(0.935)">$182,248</span></div><svg class="fl" viewBox="0 0 40 40" role="img" aria-label="Switzerland flag"><g clip-path="url(#cc)"><rect x="0.00" y="0.00" width="40.00" height="40.00" fill="#e94254"/><rect x="9.50" y="16.70" width="20.40" height="6.80" fill="#fbf8f7"/><rect x="16.30" y="9.90" width="6.80" height="20.40" fill="#fbf8f7"/></g><circle cx="20" cy="20" r="19" fill="none" stroke="rgba(255,240,236,.8)" stroke-width="1.3"/></svg></div>
<div class="row" style="top:628.0px"><div class="nm"><b>UK</b></div><div class="rk"><span class="d1">8</span></div><div class="pill e"><span class="v" style="transform:scaleX(0.935)">$176,370</span></div><svg class="fl" viewBox="0 0 40 40" role="img" aria-label="UK flag"><g clip-path="url(#cc)"><rect x="0.00" y="0.00" width="40.00" height="40.00" fill="#29559b"/><path d="M-2 4.200L42 35.800M42 4.200L-2 35.800" stroke="#fbf8f7" stroke-width="7.600"/><path d="M-2 4.200L42 35.800M42 4.200L-2 35.800" stroke="#cf4f5f" stroke-width="2.200"/><rect x="14.20" y="0.00" width="11.40" height="40.00" fill="#fbf8f7"/><rect x="0.00" y="14.30" width="40.00" height="11.50" fill="#fbf8f7"/><rect x="16.20" y="0.00" width="7.40" height="40.00" fill="#e84658"/><rect x="0.00" y="16.30" width="40.00" height="7.50" fill="#e84658"/></g><circle cx="20" cy="20" r="19" fill="none" stroke="rgba(255,240,236,.8)" stroke-width="1.3"/></svg></div>
<div class="row" style="top:668.0px"><div class="nm" style="transform:scaleX(0.919)"><b>Canada</b></div><div class="rk"><span class="d1">9</span></div><div class="pill n"><span class="v" style="transform:scaleX(0.874)">$151,910</span></div><svg class="fl" viewBox="0 0 40 40" role="img" aria-label="Canada flag"><g clip-path="url(#cc)"><rect x="0.00" y="0.00" width="9.70" height="40.00" fill="#e3415a"/><rect x="9.50" y="0.00" width="20.30" height="40.00" fill="#fbf8f7"/><rect x="29.60" y="0.00" width="10.60" height="40.00" fill="#e3415a"/><path transform="translate(19.500 20.300) scale(.740)" d="M0,-10L2,-6.500L4.500,-7.500L3.500,-2L6.500,-4.500L7.200,-2.800L10,-3.200L8.800,.5L10,1.500L5.500,5L6.200,7L.6,6.200L.6,10L-.6,10L-.6,6.200L-6.200,7L-5.500,5L-10,1.500L-8.800,.5L-10,-3.200L-7.200,-2.800L-6.500,-4.500L-3.500,-2L-4.500,-7.500L-2,-6.500Z" fill="#e3415a"/></g><circle cx="20" cy="20" r="19" fill="none" stroke="rgba(255,240,236,.8)" stroke-width="1.3"/></svg></div>
<div class="row" style="top:708.0px"><div class="nm" style="transform:scaleX(0.896)"><b>France</b></div><div class="rk"><span class="d2">10</span></div><div class="pill e"><span class="v" style="transform:scaleX(0.904)">$146,017</span></div><svg class="fl" viewBox="0 0 40 40" role="img" aria-label="France flag"><g clip-path="url(#cc)"><rect x="0.00" y="0.00" width="13.40" height="40.00" fill="#3f84ca"/><rect x="13.20" y="0.00" width="13.40" height="40.00" fill="#fbf8f7"/><rect x="26.40" y="0.00" width="13.80" height="40.00" fill="#e84658"/></g><circle cx="20" cy="20" r="19" fill="none" stroke="rgba(255,240,236,.8)" stroke-width="1.3"/></svg></div>
<div class="row" style="top:748.0px"><div class="nm"><b>Norway</b></div><div class="rk"><span class="d2">11</span></div><div class="pill e"><span class="v" style="transform:scaleX(0.904)">$142,501</span></div><svg class="fl" viewBox="0 0 40 40" role="img" aria-label="Norway flag"><g clip-path="url(#cc)"><rect x="0.00" y="0.00" width="40.00" height="40.00" fill="#e84658"/><rect x="10.40" y="0.00" width="8.50" height="40.00" fill="#fbf8f7"/><rect x="0.00" y="15.10" width="40.00" height="9.60" fill="#fbf8f7"/><rect x="12.10" y="0.00" width="5.00" height="40.00" fill="#4283bf"/><rect x="0.00" y="17.30" width="40.00" height="5.40" fill="#4283bf"/></g><circle cx="20" cy="20" r="19" fill="none" stroke="rgba(255,240,236,.8)" stroke-width="1.3"/></svg></div>
<div class="row" style="top:788.0px"><div class="nm"><b>Netherlands</b></div><div class="rk"><span class="d2">12</span></div><div class="pill e"><span class="v" style="transform:scaleX(0.904)">$131,896</span></div><svg class="fl" viewBox="0 0 40 40" role="img" aria-label="Netherlands flag"><g clip-path="url(#cc)"><rect x="0.00" y="0.00" width="40.00" height="13.80" fill="#e84658"/><rect x="0.00" y="13.60" width="40.00" height="13.20" fill="#fbf8f7"/><rect x="0.00" y="26.60" width="40.00" height="13.60" fill="#3b82c6"/></g><circle cx="20" cy="20" r="19" fill="none" stroke="rgba(255,240,236,.8)" stroke-width="1.3"/></svg></div>
<div class="row" style="top:828.0px"><div class="nm"><b>Spain</b></div><div class="rk"><span class="d2">13</span></div><div class="pill e"><span class="v" style="transform:scaleX(0.935)">$126,290</span></div><svg class="fl" viewBox="0 0 40 40" role="img" aria-label="Spain flag"><g clip-path="url(#cc)"><rect x="0.00" y="0.00" width="40.00" height="10.00" fill="#e8414f"/><rect x="0.00" y="9.80" width="40.00" height="20.50" fill="#fcc529"/><rect x="0.00" y="30.10" width="40.00" height="10.10" fill="#e8414f"/><rect x="10.300" y="15.800" width="6.400" height="10.800" rx="1.200" fill="#c9772e"/><rect x="10.700" y="13.200" width="5.600" height="2.600" rx=".8" fill="#c9772e"/><rect x="11.300" y="17" width="2" height="4" fill="#e6a24a"/><rect x="13.700" y="17" width="2" height="4" fill="#d9504f"/><rect x="11.300" y="21.800" width="4.400" height="3.400" fill="#e6a24a"/><rect x="6.200" y="18.200" width="2.400" height="8.400" fill="#f7ead0"/><rect x="18.400" y="18.200" width="2.400" height="8.400" fill="#f7ead0"/><rect x="5.600" y="17" width="3.600" height="1.500" fill="#c9772e"/><rect x="17.800" y="17" width="3.600" height="1.500" fill="#c9772e"/><rect x="5.200" y="21.400" width="4.400" height="1.500" fill="#d9504f"/><rect x="17.400" y="21.400" width="4.400" height="1.500" fill="#d9504f"/></g><circle cx="20" cy="20" r="19" fill="none" stroke="rgba(255,240,236,.8)" stroke-width="1.3"/></svg></div>
<div class="row" style="top:868.0px"><div class="nm"><b>Italy</b></div><div class="rk"><span class="d2">14</span></div><div class="pill e"><span class="v" style="transform:scaleX(0.935)">$124,473</span></div><svg class="fl" viewBox="0 0 40 40" role="img" aria-label="Italy flag"><g clip-path="url(#cc)"><rect x="0.00" y="0.00" width="13.30" height="40.00" fill="#6fab46"/><rect x="13.10" y="0.00" width="13.70" height="40.00" fill="#fbf8f7"/><rect x="26.60" y="0.00" width="13.60" height="40.00" fill="#e84658"/></g><circle cx="20" cy="20" r="19" fill="none" stroke="rgba(255,240,236,.8)" stroke-width="1.3"/></svg></div>
<div class="row" style="top:908.0px"><div class="nm"><b>U.S.</b></div><div class="rk"><span class="d2">15</span></div><div class="pill n"><span class="v" style="transform:scaleX(0.904)">$124,041</span></div><svg class="fl" viewBox="0 0 40 40" role="img" aria-label="U.S. flag"><g clip-path="url(#cc)"><rect x="0.00" y="0.00" width="40.00" height="40.00" fill="#fbf8f7"/><rect x="0.00" y="1.00" width="40.00" height="2.92" fill="#c94558"/><rect x="0.00" y="6.85" width="40.00" height="2.92" fill="#c94558"/><rect x="0.00" y="12.69" width="40.00" height="2.92" fill="#c94558"/><rect x="0.00" y="18.54" width="40.00" height="2.92" fill="#c94558"/><rect x="0.00" y="24.38" width="40.00" height="2.92" fill="#c94558"/><rect x="0.00" y="30.23" width="40.00" height="2.92" fill="#c94558"/><rect x="0.00" y="36.08" width="40.00" height="2.92" fill="#c94558"/><rect x="0.00" y="0.00" width="19.30" height="21.46" fill="#3571b5"/><circle cx="4.2" cy="3.2" r=".85" fill="#dff0ff"/><circle cx="8.2" cy="3.2" r=".85" fill="#dff0ff"/><circle cx="12.2" cy="3.2" r=".85" fill="#dff0ff"/><circle cx="16.2" cy="3.2" r=".85" fill="#dff0ff"/><circle cx="2.2" cy="6.9" r=".85" fill="#dff0ff"/><circle cx="6.2" cy="6.9" r=".85" fill="#dff0ff"/><circle cx="10.2" cy="6.9" r=".85" fill="#dff0ff"/><circle cx="14.2" cy="6.9" r=".85" fill="#dff0ff"/><circle cx="18.0" cy="6.9" r=".85" fill="#dff0ff"/><circle cx="4.2" cy="10.6" r=".85" fill="#dff0ff"/><circle cx="8.2" cy="10.6" r=".85" fill="#dff0ff"/><circle cx="12.2" cy="10.6" r=".85" fill="#dff0ff"/><circle cx="16.2" cy="10.6" r=".85" fill="#dff0ff"/><circle cx="2.2" cy="14.3" r=".85" fill="#dff0ff"/><circle cx="6.2" cy="14.3" r=".85" fill="#dff0ff"/><circle cx="10.2" cy="14.3" r=".85" fill="#dff0ff"/><circle cx="14.2" cy="14.3" r=".85" fill="#dff0ff"/><circle cx="18.0" cy="14.3" r=".85" fill="#dff0ff"/><circle cx="4.2" cy="18.0" r=".85" fill="#dff0ff"/><circle cx="8.2" cy="18.0" r=".85" fill="#dff0ff"/><circle cx="12.2" cy="18.0" r=".85" fill="#dff0ff"/><circle cx="16.2" cy="18.0" r=".85" fill="#dff0ff"/></g><circle cx="20" cy="20" r="19" fill="none" stroke="rgba(255,240,236,.8)" stroke-width="1.3"/></svg></div>
<div class="row" style="top:948.0px"><div class="nm" style="transform:scaleX(0.975)"><b>Malta</b></div><div class="rk"><span class="d2">16</span></div><div class="pill e"><span class="v" style="transform:scaleX(0.935)">$120,875</span></div><svg class="fl" viewBox="0 0 40 40" role="img" aria-label="Malta flag"><g clip-path="url(#cc)"><rect x="0.00" y="0.00" width="19.90" height="40.00" fill="#fbf8f7"/><rect x="19.70" y="0.00" width="20.50" height="40.00" fill="#e84658"/><path d="M9.700 5.600h3.400v5h5v3.400h-5v5h-3.400v-5h-5v-3.400h5z" fill="#a89c9c"/></g><circle cx="20" cy="20" r="19" fill="none" stroke="rgba(255,240,236,.8)" stroke-width="1.3"/></svg></div>
<div class="row" style="top:988.0px"><div class="nm"><b>Taiwan</b></div><div class="rk"><span class="d2">17</span></div><div class="pill a"><span class="v" style="transform:scaleX(0.874)">$114,871</span></div><svg class="fl" viewBox="0 0 40 40" role="img" aria-label="Taiwan flag"><g clip-path="url(#cc)"><rect x="0.00" y="0.00" width="40.00" height="40.00" fill="#e84658"/><rect x="0.00" y="0.00" width="20.10" height="19.70" fill="#24549c"/><polygon points="11.40,5.40 12.41,7.93 14.55,6.24 14.16,8.94 16.86,8.55 15.17,10.69 17.70,11.70 15.17,12.71 16.86,14.85 14.16,14.46 14.55,17.16 12.41,15.47 11.40,18.00 10.39,15.47 8.25,17.16 8.64,14.46 5.94,14.85 7.63,12.71 5.10,11.70 7.63,10.69 5.94,8.55 8.64,8.94 8.25,6.24 10.39,7.93" fill="#fbf8f7"/><circle cx="11.400" cy="11.700" r="3.500" fill="#24549c"/><circle cx="11.400" cy="11.700" r="3" fill="#fbf8f7"/></g><circle cx="20" cy="20" r="19" fill="none" stroke="rgba(255,240,236,.8)" stroke-width="1.3"/></svg></div>
<div class="row" style="top:1028.0px"><div class="nm"><b>Singapore</b></div><div class="rk"><span class="d2">18</span></div><div class="pill a"><span class="v" style="transform:scaleX(0.904)">$113,976</span></div><svg class="fl" viewBox="0 0 40 40" role="img" aria-label="Singapore flag"><g clip-path="url(#cc)"><rect x="0.00" y="0.00" width="40.00" height="20.40" fill="#e84658"/><rect x="0.00" y="20.20" width="40.00" height="20.00" fill="#fbf8f7"/><circle cx="11.4" cy="11.6" r="4.7" fill="#fbf8f7"/><circle cx="13.3" cy="11.6" r="4.3" fill="#e84658"/><polygon points="15.90,7.45 16.22,8.26 17.09,8.31 16.42,8.87 16.63,9.71 15.90,9.25 15.17,9.71 15.38,8.87 14.71,8.31 15.58,8.26" fill="#fbf8f7"/><polygon points="18.47,9.32 18.79,10.12 19.66,10.18 18.99,10.74 19.20,11.58 18.47,11.12 17.73,11.58 17.94,10.74 17.28,10.18 18.14,10.12" fill="#fbf8f7"/><polygon points="17.49,12.33 17.81,13.14 18.68,13.20 18.01,13.75 18.22,14.60 17.49,14.13 16.75,14.60 16.96,13.75 16.30,13.20 17.16,13.14" fill="#fbf8f7"/><polygon points="14.31,12.33 14.64,13.14 15.50,13.20 14.84,13.75 15.05,14.60 14.31,14.13 13.58,14.60 13.79,13.75 13.12,13.20 13.99,13.14" fill="#fbf8f7"/><polygon points="13.33,9.32 13.66,10.12 14.52,10.18 13.86,10.74 14.07,11.58 13.33,11.12 12.60,11.58 12.81,10.74 12.14,10.18 13.01,10.12" fill="#fbf8f7"/></g><circle cx="20" cy="20" r="19" fill="none" stroke="rgba(255,240,236,.8)" stroke-width="1.3"/></svg></div>
<div class="row" style="top:1068.0px"><div class="nm"><b>Ireland</b></div><div class="rk"><span class="d2">19</span></div><div class="pill e"><span class="v" style="transform:scaleX(0.935)">$105,626</span></div><svg class="fl" viewBox="0 0 40 40" role="img" aria-label="Ireland flag"><g clip-path="url(#cc)"><rect x="0.00" y="0.00" width="12.80" height="40.00" fill="#7cb843"/><rect x="12.60" y="0.00" width="13.20" height="40.00" fill="#fbf8f7"/><rect x="25.60" y="0.00" width="14.60" height="40.00" fill="#f88128"/></g><circle cx="20" cy="20" r="19" fill="none" stroke="rgba(255,240,236,.8)" stroke-width="1.3"/></svg></div>
<div class="row" style="top:1108.0px"><div class="nm" style="transform:scaleX(0.898)"><b>South Korea</b></div><div class="rk"><span class="d2">20</span></div><div class="pill a"><span class="v" style="transform:scaleX(0.935)">$104,067</span></div><svg class="fl" viewBox="0 0 40 40" role="img" aria-label="South Korea flag"><g clip-path="url(#cc)"><rect x="0.00" y="0.00" width="40.00" height="40.00" fill="#fbf8f7"/><g transform="translate(19.700 20) rotate(33)"><path d="M-7.900 0A7.900 7.900 0 0 1 7.900 0z" fill="#e8415a"/><path d="M-7.900 0A7.900 7.900 0 0 0 7.900 0z" fill="#3479bf"/><circle cx="-3.950" cy="0" r="3.950" fill="#e8415a"/><circle cx="3.950" cy="0" r="3.950" fill="#3479bf"/></g><g transform="translate(19.700 20) rotate(33)"><path d="M12.400 -3.700v7.400M14.500 -3.700v7.400M16.600 -3.700v7.400" stroke="#34312f" stroke-width="1.350"/></g><g transform="translate(19.700 20) rotate(147)"><path d="M12.400 -3.700v7.400M14.500 -3.700v7.400M16.600 -3.700v7.400" stroke="#34312f" stroke-width="1.350"/></g><g transform="translate(19.700 20) rotate(213)"><path d="M12.400 -3.700v7.400M14.500 -3.700v7.400M16.600 -3.700v7.400" stroke="#34312f" stroke-width="1.350"/></g><g transform="translate(19.700 20) rotate(327)"><path d="M12.400 -3.700v7.400M14.500 -3.700v7.400M16.600 -3.700v7.400" stroke="#34312f" stroke-width="1.350"/></g></g><circle cx="20" cy="20" r="19" fill="none" stroke="rgba(255,240,236,.8)" stroke-width="1.3"/></svg></div>
<div class="row" style="top:1148.0px"><div class="nm"><b>Japan</b></div><div class="rk"><span class="d2">21</span></div><div class="pill a"><span class="v" style="transform:scaleX(0.904)">$102,198</span></div><svg class="fl" viewBox="0 0 40 40" role="img" aria-label="Japan flag"><g clip-path="url(#cc)"><rect x="0.00" y="0.00" width="40.00" height="40.00" fill="#fbf8f7"/><circle cx="19.7" cy="20" r="7.9" fill="#e84658"/></g><circle cx="20" cy="20" r="19" fill="none" stroke="rgba(255,240,236,.8)" stroke-width="1.3"/></svg></div>
<div class="row" style="top:1188.0px"><div class="nm"><b>Qatar</b></div><div class="rk"><span class="d2">22</span></div><div class="pill a"><span class="v" style="transform:scaleX(0.904)">$102,178</span></div><svg class="fl" viewBox="0 0 40 40" role="img" aria-label="Qatar flag"><g clip-path="url(#cc)"><rect x="0.00" y="0.00" width="40.00" height="40.00" fill="#fbf8f7"/><polygon points="40,0 16.6,0 11.00,3.11 16.60,5.22 11.00,7.33 16.60,9.44 11.00,11.56 16.60,13.67 11.00,15.78 16.60,17.89 11.00,20.00 16.60,22.11 11.00,24.22 16.60,26.33 11.00,28.44 16.60,30.56 11.00,32.67 16.60,34.78 11.00,36.89 16.60,39.00 16.6,40 40,40" fill="#bd4981"/></g><circle cx="20" cy="20" r="19" fill="none" stroke="rgba(255,240,236,.8)" stroke-width="1.3"/></svg></div>
<div class="row" style="top:1228.0px"><div class="nm"><b>Finland</b></div><div class="rk"><span class="d2">23</span></div><div class="pill e"><span class="v">$94,794</span></div><svg class="fl" viewBox="0 0 40 40" role="img" aria-label="Finland flag"><g clip-path="url(#cc)"><rect x="0.00" y="0.00" width="40.00" height="40.00" fill="#fbf8f7"/><rect x="10.00" y="0.00" width="9.20" height="40.00" fill="#3579ba"/><rect x="0.00" y="15.60" width="40.00" height="9.00" fill="#3579ba"/></g><circle cx="20" cy="20" r="19" fill="none" stroke="rgba(255,240,236,.8)" stroke-width="1.3"/></svg></div>
<div class="row" style="top:1268.0px"><div class="nm"><b>Sweden</b></div><div class="rk"><span class="d2">24</span></div><div class="pill e"><span class="v">$89,430</span></div><svg class="fl" viewBox="0 0 40 40" role="img" aria-label="Sweden flag"><g clip-path="url(#cc)"><rect x="0.00" y="0.00" width="40.00" height="40.00" fill="#3e85bf"/><rect x="9.80" y="0.00" width="9.80" height="40.00" fill="#fbd433"/><rect x="0.00" y="15.20" width="40.00" height="9.60" fill="#fbd433"/></g><circle cx="20" cy="20" r="19" fill="none" stroke="rgba(255,240,236,.8)" stroke-width="1.3"/></svg></div>
<div class="row" style="top:1308.0px"><div class="nm"><b>Israel</b></div><div class="rk"><span class="d2">25</span></div><div class="pill a"><span class="v">$88,866</span></div><svg class="fl" viewBox="0 0 40 40" role="img" aria-label="Israel flag"><g clip-path="url(#cc)"><rect x="0.00" y="0.00" width="40.00" height="40.00" fill="#fbf8f7"/><rect x="0.00" y="6.80" width="40.00" height="5.00" fill="#3b82bf"/><rect x="0.00" y="28.30" width="40.00" height="5.00" fill="#3b82bf"/><polygon points="19.80,14.80 24.48,22.90 15.12,22.90" fill="none" stroke="#356fae" stroke-width="1.250" stroke-linejoin="miter"/><polygon points="19.80,25.60 15.12,17.50 24.48,17.50" fill="none" stroke="#356fae" stroke-width="1.250" stroke-linejoin="miter"/></g><circle cx="20" cy="20" r="19" fill="none" stroke="rgba(255,240,236,.8)" stroke-width="1.3"/></svg></div>
</section>
<footer>
<svg id="logo" viewBox="40 1412 84 64" width="84" height="64" style="position:absolute;left:40px;top:1412px" role="img" aria-label="Visual Capitalist logo">
<defs>
<mask id="lens" maskUnits="userSpaceOnUse" x="40" y="1412" width="84" height="64"><rect x="40" y="1412" width="84" height="64" fill="#fff"/><circle cx="65.900" cy="1450.600" r="17.700" fill="#000"/><circle cx="97.750" cy="1450.600" r="17.700" fill="#000"/></mask>
<mask id="mL" maskUnits="userSpaceOnUse" x="40" y="1412" width="84" height="64"><rect x="40" y="1412" width="84" height="64" fill="#fff"/><circle cx="97.750" cy="1450.600" r="17.700" fill="#000"/></mask>
<mask id="mR" maskUnits="userSpaceOnUse" x="40" y="1412" width="84" height="64"><rect x="40" y="1412" width="84" height="64" fill="#fff"/><circle cx="65.900" cy="1450.600" r="17.700" fill="#000"/></mask>
</defs>
<g fill="#0b0908">
<path mask="url(#lens)" d="M44.300 1450.600L45.800 1443.500L63.800 1421Q67.500 1417.200 72.500 1417.900Q78 1418.300 81.800 1421.800Q85.600 1418.300 91 1417.900Q96 1417.200 99.800 1421L117.800 1443.500L119.400 1450.600Z"/>
<circle mask="url(#mL)" cx="65.900" cy="1450.600" r="19.650" fill="none" stroke="#0b0908" stroke-width="3.900"/>
<circle mask="url(#mR)" cx="97.750" cy="1450.600" r="19.650" fill="none" stroke="#0b0908" stroke-width="3.900"/>
<ellipse cx="81.800" cy="1455.500" rx="19.200" ry="12.600"/>
<path d="M89 1445.800L93.600 1441.500L94.600 1447.500Z"/>
<rect x="97" y="1454.500" width="9.200" height="11.200" rx="4.200"/>
<path d="M63.600 1458h15.800v10.500q-1.500 3.600-6 3.700q-6.500-.200-9.800-4.500zM85.200 1458h13.400v7.500q-3 5.400-8.400 6.600q-3.500.300-5-3z"/>
</g>
<text x="55.800" y="1460.300" font-family="Liberation Sans, sans-serif" font-size="6" font-weight="bold" fill="#0b0908" transform="rotate(-30 57.500 1458.500)">$</text>
</svg>
<div id="vc1" style="top:1426.700px;letter-spacing:3.400px">VISUAL</div>
<div id="vc2" style="top:1446.600px;letter-spacing:3.400px">CAPITALIST</div>
<p class="fn" style="top:1384.300px;letter-spacing:.363px">GDP per capita: the total economic activity within the country divided by the population in a single year. GNI per</p>
<p class="fn" style="top:1407.300px;letter-spacing:.395px">capita: income accrued to residents instead of what is produced within the country. Median wealth per adult: an</p>
<p class="fn" style="top:1430.300px;letter-spacing:.222px">average resident’s total net worth. Figures rounded. All data in current USD for the year. Includes overseas territories</p>
<p class="fn" style="top:1452.800px;letter-spacing:.280px">and special administrative regions. <b>Source:</b> International Monetary Fund, World Bank, UBS Wealth Report</p>
</footer>
</div>
</body>
</html>
